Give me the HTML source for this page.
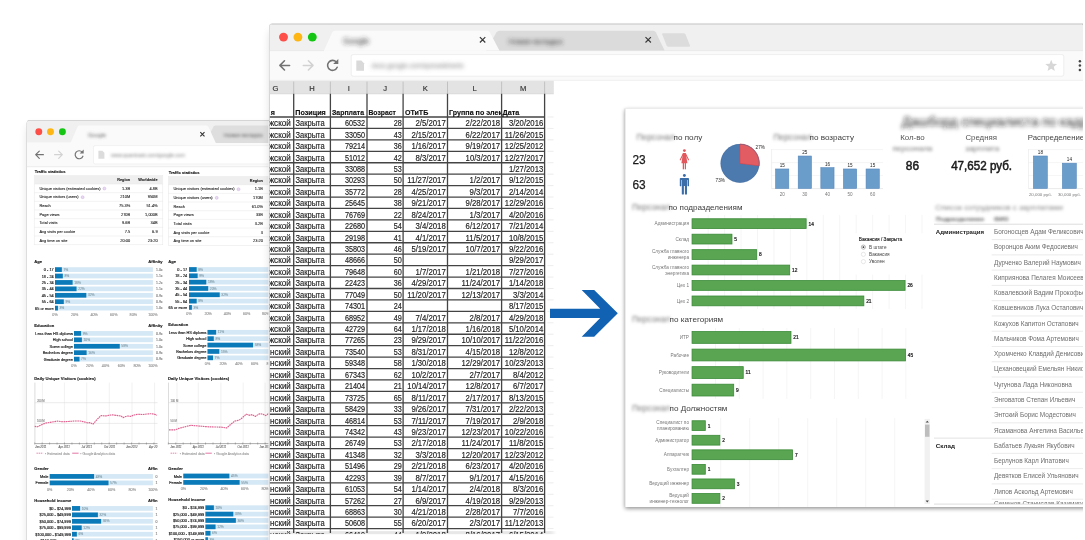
<!DOCTYPE html>
<html lang="ru">
<head>
<meta charset="utf-8">
<title>Excel → Dashboard</title>
<style>
html,body{margin:0;padding:0;background:#fff;}
body{width:1085px;height:540px;overflow:hidden;position:relative;font-family:'Liberation Sans', 'DejaVu Sans', sans-serif;}
svg{position:absolute;left:0;top:0;display:block;}
text{font-family:'Liberation Sans', 'DejaVu Sans', sans-serif;}
</style>
</head>
<body>
<svg width="1085" height="540" viewBox="0 0 1085 540" style="filter:blur(0.3px)">
<defs>
<filter id="sh" x="-10%" y="-10%" width="120%" height="120%"><feGaussianBlur stdDeviation="5"/></filter>
<filter id="sh2" x="-10%" y="-10%" width="120%" height="120%"><feGaussianBlur stdDeviation="2.2"/></filter>
<filter id="bl1" x="-20%" y="-60%" width="140%" height="220%"><feGaussianBlur stdDeviation="1.35"/></filter>
<filter id="bl2" x="-20%" y="-60%" width="140%" height="220%"><feGaussianBlur stdDeviation="2.2"/></filter>
<clipPath id="cw1"><rect x="27" y="120.5" width="260" height="440" rx="3"/></clipPath>
<clipPath id="cw2"><rect x="269.5" y="24" width="813.5" height="520" rx="3"/></clipPath>
<clipPath id="cdash"><rect x="625" y="108.5" width="458" height="398.5"/></clipPath>
<clipPath id="csheet"><rect x="269.5" y="80.5" width="290" height="453.3"/></clipPath>
</defs>
<!-- left browser window -->
<rect x="28.0" y="126.5" width="262" height="430" rx="4" fill="#000" opacity="0.14" filter="url(#sh)"/>
<rect x="26.6" y="120.1" width="263" height="431" rx="3.4" fill="#bdbdbd"/>
<g clip-path="url(#cw1)">
<rect x="27.00" y="120.50" width="262.00" height="430.00" fill="#ffffff"/>
<rect x="27.00" y="120.50" width="262.00" height="22.20" fill="#f0f0f0"/>
<rect x="27.00" y="142.70" width="262.00" height="23.80" fill="#fafafa"/>
<line x1="27.00" y1="166.70" x2="289.00" y2="166.70" stroke="#e3e3e3" stroke-width="0.6"/>
<path d="M205,142.9 L213.6,126.6 Q214.3,125.4 215.7,125.4 L300,125.4 L300,142.9 Z" fill="#dedede"/>
<path d="M70.5,142.9 L77.6,126.8 Q78.3,125.4 79.8,125.4 L206.2,125.4 Q207.7,125.4 208.4,126.8 L215.8,142.9 Z" fill="#fafafa"/>
<circle cx="38.8" cy="131.7" r="3.45" fill="#fd4f48"/><circle cx="50.5" cy="131.7" r="3.45" fill="#fdb614"/><circle cx="62.4" cy="131.7" r="3.45" fill="#14c514"/>
<g filter="url(#bl1)">
<text x="88.00" y="136.60" font-size="5.6" fill="#555">Google</text>
<text x="224.00" y="136.60" font-size="5.6" fill="#555">Новая вкладка</text>
</g>
<path d="M200.3,132.2 l4.2,4.2 m0,-4.2 l-4.2,4.2" stroke="#333" stroke-width="1.1" fill="none"/>
<g fill="none" stroke-linecap="round" stroke-linejoin="round">
<path d="M43.4,154.7 h-7.6 m3.5,-3.6 l-3.6,3.6 l3.6,3.6" stroke="#737373" stroke-width="1.2"/>
<path d="M54.6,154.7 h7.6 m-3.5,-3.6 l3.6,3.6 l-3.6,3.6" stroke="#d2d2d2" stroke-width="1.2"/>
<path d="M82.2,152.1 A4,4 0 1 0 82.9,156.2" stroke="#737373" stroke-width="1.2"/>
</g>
<path d="M83.7,149.6 v4.0 h-4.0 z" fill="#737373"/>
<rect x="93.5" y="145.6" width="200" height="18.3" rx="1.5" fill="#ffffff" stroke="#e6e6e6" stroke-width="0.5"/>
<path d="M98.4,150.7 h3.9 l2.1,2.1 v5.9 h-6 z" fill="#dcdcdc"/>
<g filter="url(#bl1)">
<text x="111.00" y="157.00" font-size="5.4" fill="#777" textLength="74.00" lengthAdjust="spacingAndGlyphs">www.quantcast.com/google.com</text>
</g>
<text x="34.70" y="172.90" font-size="4.05" fill="#111" font-weight="bold" stroke="#111" stroke-width="0.09">Traffic statistics</text>
<rect x="34.20" y="175.60" width="128.60" height="69.20" fill="#ffffff" stroke="#e6e6e6" stroke-width="0.5"/>
<rect x="34.20" y="175.60" width="128.60" height="8.40" fill="#efefef"/>
<text x="130.20" y="181.40" font-size="3.85" fill="#222" text-anchor="end" font-weight="bold" stroke="#222" stroke-width="0.09">Region</text>
<text x="157.60" y="181.40" font-size="3.85" fill="#222" text-anchor="end" font-weight="bold" stroke="#222" stroke-width="0.09">Worldwide</text>
<line x1="34.20" y1="184.00" x2="162.80" y2="184.00" stroke="#e6e6e6" stroke-width="0.5"/>
<text x="39.40" y="189.70" font-size="3.95" fill="#222" stroke="#222" stroke-width="0.09">Unique visitors (estimated cookies)</text>
<circle cx="104.40" cy="188.50" r="1.5" fill="#e9d9f2" stroke="#b48ad0" stroke-width="0.3"/>
<text x="130.20" y="189.70" font-size="3.95" fill="#222" text-anchor="end" stroke="#222" stroke-width="0.09">1.3B</text>
<text x="157.60" y="189.70" font-size="3.95" fill="#222" text-anchor="end" stroke="#222" stroke-width="0.09">4.8B</text>
<line x1="34.20" y1="192.67" x2="162.80" y2="192.67" stroke="#e6e6e6" stroke-width="0.5"/>
<text x="39.40" y="198.37" font-size="3.95" fill="#222" stroke="#222" stroke-width="0.09">Unique visitors (users)</text>
<circle cx="82.60" cy="197.17" r="1.5" fill="#e9d9f2" stroke="#b48ad0" stroke-width="0.3"/>
<text x="130.20" y="198.37" font-size="3.95" fill="#222" text-anchor="end" stroke="#222" stroke-width="0.09">210M</text>
<text x="157.60" y="198.37" font-size="3.95" fill="#222" text-anchor="end" stroke="#222" stroke-width="0.09">950M</text>
<line x1="34.20" y1="201.34" x2="162.80" y2="201.34" stroke="#e6e6e6" stroke-width="0.5"/>
<text x="39.40" y="207.04" font-size="3.95" fill="#222" stroke="#222" stroke-width="0.09">Reach</text>
<text x="130.20" y="207.04" font-size="3.95" fill="#222" text-anchor="end" stroke="#222" stroke-width="0.09">75.3%</text>
<text x="157.60" y="207.04" font-size="3.95" fill="#222" text-anchor="end" stroke="#222" stroke-width="0.09">51.4%</text>
<line x1="34.20" y1="210.01" x2="162.80" y2="210.01" stroke="#e6e6e6" stroke-width="0.5"/>
<text x="39.40" y="215.71" font-size="3.95" fill="#222" stroke="#222" stroke-width="0.09">Page views</text>
<text x="130.20" y="215.71" font-size="3.95" fill="#222" text-anchor="end" stroke="#222" stroke-width="0.09">270B</text>
<text x="157.60" y="215.71" font-size="3.95" fill="#222" text-anchor="end" stroke="#222" stroke-width="0.09">1,000B</text>
<line x1="34.20" y1="218.68" x2="162.80" y2="218.68" stroke="#e6e6e6" stroke-width="0.5"/>
<text x="39.40" y="224.38" font-size="3.95" fill="#222" stroke="#222" stroke-width="0.09">Total visits</text>
<text x="130.20" y="224.38" font-size="3.95" fill="#222" text-anchor="end" stroke="#222" stroke-width="0.09">9.6B</text>
<text x="157.60" y="224.38" font-size="3.95" fill="#222" text-anchor="end" stroke="#222" stroke-width="0.09">34B</text>
<line x1="34.20" y1="227.35" x2="162.80" y2="227.35" stroke="#e6e6e6" stroke-width="0.5"/>
<text x="39.40" y="233.05" font-size="3.95" fill="#222" stroke="#222" stroke-width="0.09">Avg visits per cookie</text>
<text x="130.20" y="233.05" font-size="3.95" fill="#222" text-anchor="end" stroke="#222" stroke-width="0.09">7.5</text>
<text x="157.60" y="233.05" font-size="3.95" fill="#222" text-anchor="end" stroke="#222" stroke-width="0.09">6.9</text>
<line x1="34.20" y1="236.02" x2="162.80" y2="236.02" stroke="#e6e6e6" stroke-width="0.5"/>
<text x="39.40" y="241.72" font-size="3.95" fill="#222" stroke="#222" stroke-width="0.09">Avg time on site</text>
<text x="130.20" y="241.72" font-size="3.95" fill="#222" text-anchor="end" stroke="#222" stroke-width="0.09">20:00</text>
<text x="157.60" y="241.72" font-size="3.95" fill="#222" text-anchor="end" stroke="#222" stroke-width="0.09">23:20</text>
<text x="168.80" y="173.60" font-size="4.05" fill="#111" font-weight="bold" stroke="#111" stroke-width="0.09">Traffic statistics</text>
<rect x="168.30" y="176.30" width="127.70" height="69.20" fill="#ffffff" stroke="#e6e6e6" stroke-width="0.5"/>
<rect x="168.30" y="176.30" width="127.70" height="8.40" fill="#efefef"/>
<text x="262.90" y="182.10" font-size="3.85" fill="#222" text-anchor="end" font-weight="bold" stroke="#222" stroke-width="0.09">Region</text>
<line x1="168.30" y1="184.70" x2="296.00" y2="184.70" stroke="#e6e6e6" stroke-width="0.5"/>
<text x="173.50" y="190.40" font-size="3.95" fill="#222" stroke="#222" stroke-width="0.09">Unique visitors (estimated cookies)</text>
<circle cx="238.50" cy="189.20" r="1.5" fill="#e9d9f2" stroke="#b48ad0" stroke-width="0.3"/>
<text x="262.90" y="190.40" font-size="3.95" fill="#222" text-anchor="end" stroke="#222" stroke-width="0.09">1.1B</text>
<line x1="168.30" y1="193.37" x2="296.00" y2="193.37" stroke="#e6e6e6" stroke-width="0.5"/>
<text x="173.50" y="199.07" font-size="3.95" fill="#222" stroke="#222" stroke-width="0.09">Unique visitors (users)</text>
<circle cx="216.70" cy="197.87" r="1.5" fill="#e9d9f2" stroke="#b48ad0" stroke-width="0.3"/>
<text x="262.90" y="199.07" font-size="3.95" fill="#222" text-anchor="end" stroke="#222" stroke-width="0.09">170M</text>
<line x1="168.30" y1="202.04" x2="296.00" y2="202.04" stroke="#e6e6e6" stroke-width="0.5"/>
<text x="173.50" y="207.74" font-size="3.95" fill="#222" stroke="#222" stroke-width="0.09">Reach</text>
<text x="262.90" y="207.74" font-size="3.95" fill="#222" text-anchor="end" stroke="#222" stroke-width="0.09">61.0%</text>
<line x1="168.30" y1="210.71" x2="296.00" y2="210.71" stroke="#e6e6e6" stroke-width="0.5"/>
<text x="173.50" y="216.41" font-size="3.95" fill="#222" stroke="#222" stroke-width="0.09">Page views</text>
<text x="262.90" y="216.41" font-size="3.95" fill="#222" text-anchor="end" stroke="#222" stroke-width="0.09">33B</text>
<line x1="168.30" y1="219.38" x2="296.00" y2="219.38" stroke="#e6e6e6" stroke-width="0.5"/>
<text x="173.50" y="225.08" font-size="3.95" fill="#222" stroke="#222" stroke-width="0.09">Total visits</text>
<text x="262.90" y="225.08" font-size="3.95" fill="#222" text-anchor="end" stroke="#222" stroke-width="0.09">3.2B</text>
<line x1="168.30" y1="228.05" x2="296.00" y2="228.05" stroke="#e6e6e6" stroke-width="0.5"/>
<text x="173.50" y="233.75" font-size="3.95" fill="#222" stroke="#222" stroke-width="0.09">Avg visits per cookie</text>
<text x="262.90" y="233.75" font-size="3.95" fill="#222" text-anchor="end" stroke="#222" stroke-width="0.09">3</text>
<line x1="168.30" y1="236.72" x2="296.00" y2="236.72" stroke="#e6e6e6" stroke-width="0.5"/>
<text x="173.50" y="242.42" font-size="3.95" fill="#222" stroke="#222" stroke-width="0.09">Avg time on site</text>
<text x="262.90" y="242.42" font-size="3.95" fill="#222" text-anchor="end" stroke="#222" stroke-width="0.09">23:20</text>
<text x="34.20" y="262.95" font-size="4.15" fill="#111" font-weight="bold" stroke="#111" stroke-width="0.09">Age</text>
<text x="162.60" y="262.95" font-size="4.15" fill="#111" text-anchor="end" font-weight="bold" stroke="#111" stroke-width="0.09">Affinity</text>
<rect x="55.00" y="267.25" width="97.90" height="4.70" fill="#d5e8f5"/>
<rect x="55.00" y="267.25" width="6.85" height="4.70" fill="#0a7ab8"/>
<text x="53.70" y="271.10" font-size="3.85" fill="#1a1a1a" text-anchor="end" stroke="#1a1a1a" stroke-width="0.15">0 - 17</text>
<text x="63.45" y="270.70" font-size="3.3" fill="#7f9aa8" stroke="#7f9aa8" stroke-width="0.09">7%</text>
<text x="162.60" y="270.85" font-size="3.5" fill="#777" text-anchor="end" stroke="#777" stroke-width="0.09">1.0x</text>
<rect x="55.00" y="273.67" width="97.90" height="4.70" fill="#d5e8f5"/>
<rect x="55.00" y="273.67" width="7.83" height="4.70" fill="#0a7ab8"/>
<text x="53.70" y="277.52" font-size="3.85" fill="#1a1a1a" text-anchor="end" stroke="#1a1a1a" stroke-width="0.15">18 - 24</text>
<text x="64.43" y="277.12" font-size="3.3" fill="#7f9aa8" stroke="#7f9aa8" stroke-width="0.09">8%</text>
<text x="162.60" y="277.27" font-size="3.5" fill="#777" text-anchor="end" stroke="#777" stroke-width="0.09">1.1x</text>
<rect x="55.00" y="280.09" width="97.90" height="4.70" fill="#d5e8f5"/>
<rect x="55.00" y="280.09" width="17.62" height="4.70" fill="#0a7ab8"/>
<text x="53.70" y="283.94" font-size="3.85" fill="#1a1a1a" text-anchor="end" stroke="#1a1a1a" stroke-width="0.15">25 - 34</text>
<text x="74.22" y="283.54" font-size="3.3" fill="#7f9aa8" stroke="#7f9aa8" stroke-width="0.09">18%</text>
<text x="162.60" y="283.69" font-size="3.5" fill="#777" text-anchor="end" stroke="#777" stroke-width="0.09">1.2x</text>
<rect x="55.00" y="286.51" width="97.90" height="4.70" fill="#d5e8f5"/>
<rect x="55.00" y="286.51" width="21.54" height="4.70" fill="#0a7ab8"/>
<text x="53.70" y="290.36" font-size="3.85" fill="#1a1a1a" text-anchor="end" stroke="#1a1a1a" stroke-width="0.15">35 - 44</text>
<text x="78.14" y="289.96" font-size="3.3" fill="#7f9aa8" stroke="#7f9aa8" stroke-width="0.09">22%</text>
<text x="162.60" y="290.11" font-size="3.5" fill="#777" text-anchor="end" stroke="#777" stroke-width="0.09">1.1x</text>
<rect x="55.00" y="292.93" width="97.90" height="4.70" fill="#d5e8f5"/>
<rect x="55.00" y="292.93" width="31.33" height="4.70" fill="#0a7ab8"/>
<text x="53.70" y="296.78" font-size="3.85" fill="#1a1a1a" text-anchor="end" stroke="#1a1a1a" stroke-width="0.15">45 - 54</text>
<text x="87.93" y="296.38" font-size="3.3" fill="#7f9aa8" stroke="#7f9aa8" stroke-width="0.09">32%</text>
<text x="162.60" y="296.53" font-size="3.5" fill="#777" text-anchor="end" stroke="#777" stroke-width="0.09">0.9x</text>
<rect x="55.00" y="299.35" width="97.90" height="4.70" fill="#d5e8f5"/>
<rect x="55.00" y="299.35" width="8.81" height="4.70" fill="#0a7ab8"/>
<text x="53.70" y="303.20" font-size="3.85" fill="#1a1a1a" text-anchor="end" stroke="#1a1a1a" stroke-width="0.15">55 - 64</text>
<text x="65.41" y="302.80" font-size="3.3" fill="#7f9aa8" stroke="#7f9aa8" stroke-width="0.09">9%</text>
<text x="162.60" y="302.95" font-size="3.5" fill="#777" text-anchor="end" stroke="#777" stroke-width="0.09">0.9x</text>
<rect x="55.00" y="305.77" width="97.90" height="4.70" fill="#d5e8f5"/>
<rect x="55.00" y="305.77" width="2.94" height="4.70" fill="#0a7ab8"/>
<text x="53.70" y="309.62" font-size="3.85" fill="#1a1a1a" text-anchor="end" stroke="#1a1a1a" stroke-width="0.15">65 or more</text>
<text x="59.54" y="309.22" font-size="3.3" fill="#7f9aa8" stroke="#7f9aa8" stroke-width="0.09">3%</text>
<text x="162.60" y="309.37" font-size="3.5" fill="#777" text-anchor="end" stroke="#777" stroke-width="0.09">1.0x</text>
<text x="55.00" y="316.10" font-size="3.7" fill="#8c8c8c" text-anchor="middle" stroke="#8c8c8c" stroke-width="0.09">0%</text>
<text x="74.58" y="316.10" font-size="3.7" fill="#8c8c8c" text-anchor="middle" stroke="#8c8c8c" stroke-width="0.09">20%</text>
<text x="94.16" y="316.10" font-size="3.7" fill="#8c8c8c" text-anchor="middle" stroke="#8c8c8c" stroke-width="0.09">40%</text>
<text x="113.74" y="316.10" font-size="3.7" fill="#8c8c8c" text-anchor="middle" stroke="#8c8c8c" stroke-width="0.09">60%</text>
<text x="133.32" y="316.10" font-size="3.7" fill="#8c8c8c" text-anchor="middle" stroke="#8c8c8c" stroke-width="0.09">80%</text>
<text x="152.90" y="316.10" font-size="3.7" fill="#8c8c8c" text-anchor="middle" stroke="#8c8c8c" stroke-width="0.09">100%</text>
<text x="168.30" y="262.95" font-size="4.15" fill="#111" font-weight="bold" stroke="#111" stroke-width="0.09">Age</text>
<rect x="189.00" y="267.15" width="96.00" height="4.70" fill="#d5e8f5"/>
<rect x="189.00" y="267.15" width="7.68" height="4.70" fill="#0a7ab8"/>
<text x="187.20" y="271.00" font-size="3.85" fill="#1a1a1a" text-anchor="end" stroke="#1a1a1a" stroke-width="0.15">0 - 17</text>
<text x="198.28" y="270.60" font-size="3.3" fill="#7f9aa8" stroke="#7f9aa8" stroke-width="0.09">8%</text>
<rect x="189.00" y="273.47" width="96.00" height="4.70" fill="#d5e8f5"/>
<rect x="189.00" y="273.47" width="8.64" height="4.70" fill="#0a7ab8"/>
<text x="187.20" y="277.32" font-size="3.85" fill="#1a1a1a" text-anchor="end" stroke="#1a1a1a" stroke-width="0.15">18 - 24</text>
<text x="199.24" y="276.92" font-size="3.3" fill="#7f9aa8" stroke="#7f9aa8" stroke-width="0.09">9%</text>
<rect x="189.00" y="279.79" width="96.00" height="4.70" fill="#d5e8f5"/>
<rect x="189.00" y="279.79" width="17.28" height="4.70" fill="#0a7ab8"/>
<text x="187.20" y="283.64" font-size="3.85" fill="#1a1a1a" text-anchor="end" stroke="#1a1a1a" stroke-width="0.15">25 - 34</text>
<text x="207.88" y="283.24" font-size="3.3" fill="#7f9aa8" stroke="#7f9aa8" stroke-width="0.09">18%</text>
<rect x="189.00" y="286.11" width="96.00" height="4.70" fill="#d5e8f5"/>
<rect x="189.00" y="286.11" width="19.20" height="4.70" fill="#0a7ab8"/>
<text x="187.20" y="289.96" font-size="3.85" fill="#1a1a1a" text-anchor="end" stroke="#1a1a1a" stroke-width="0.15">35 - 44</text>
<text x="209.80" y="289.56" font-size="3.3" fill="#7f9aa8" stroke="#7f9aa8" stroke-width="0.09">20%</text>
<rect x="189.00" y="292.43" width="96.00" height="4.70" fill="#d5e8f5"/>
<rect x="189.00" y="292.43" width="30.72" height="4.70" fill="#0a7ab8"/>
<text x="187.20" y="296.28" font-size="3.85" fill="#1a1a1a" text-anchor="end" stroke="#1a1a1a" stroke-width="0.15">45 - 54</text>
<text x="221.32" y="295.88" font-size="3.3" fill="#7f9aa8" stroke="#7f9aa8" stroke-width="0.09">32%</text>
<rect x="189.00" y="298.75" width="96.00" height="4.70" fill="#d5e8f5"/>
<rect x="189.00" y="298.75" width="7.68" height="4.70" fill="#0a7ab8"/>
<text x="187.20" y="302.60" font-size="3.85" fill="#1a1a1a" text-anchor="end" stroke="#1a1a1a" stroke-width="0.15">55 - 64</text>
<text x="198.28" y="302.20" font-size="3.3" fill="#7f9aa8" stroke="#7f9aa8" stroke-width="0.09">8%</text>
<rect x="189.00" y="305.07" width="96.00" height="4.70" fill="#d5e8f5"/>
<rect x="189.00" y="305.07" width="2.88" height="4.70" fill="#0a7ab8"/>
<text x="187.20" y="308.92" font-size="3.85" fill="#1a1a1a" text-anchor="end" stroke="#1a1a1a" stroke-width="0.15">65 or more</text>
<text x="193.48" y="308.52" font-size="3.3" fill="#7f9aa8" stroke="#7f9aa8" stroke-width="0.09">3%</text>
<text x="189.00" y="315.30" font-size="3.7" fill="#8c8c8c" text-anchor="middle" stroke="#8c8c8c" stroke-width="0.09">0%</text>
<text x="208.20" y="315.30" font-size="3.7" fill="#8c8c8c" text-anchor="middle" stroke="#8c8c8c" stroke-width="0.09">20%</text>
<text x="227.40" y="315.30" font-size="3.7" fill="#8c8c8c" text-anchor="middle" stroke="#8c8c8c" stroke-width="0.09">40%</text>
<text x="246.60" y="315.30" font-size="3.7" fill="#8c8c8c" text-anchor="middle" stroke="#8c8c8c" stroke-width="0.09">60%</text>
<text x="265.80" y="315.30" font-size="3.7" fill="#8c8c8c" text-anchor="middle" stroke="#8c8c8c" stroke-width="0.09">80%</text>
<text x="285.00" y="315.30" font-size="3.7" fill="#8c8c8c" text-anchor="middle" stroke="#8c8c8c" stroke-width="0.09">100%</text>
<text x="34.20" y="327.05" font-size="4.15" fill="#111" font-weight="bold" stroke="#111" stroke-width="0.09">Education</text>
<text x="162.60" y="327.05" font-size="4.15" fill="#111" text-anchor="end" font-weight="bold" stroke="#111" stroke-width="0.09">Affinity</text>
<rect x="74.00" y="331.05" width="78.90" height="4.70" fill="#d5e8f5"/>
<rect x="74.00" y="331.05" width="7.10" height="4.70" fill="#0a7ab8"/>
<text x="72.90" y="334.90" font-size="3.85" fill="#1a1a1a" text-anchor="end" stroke="#1a1a1a" stroke-width="0.15">Less than HS diploma</text>
<text x="82.70" y="334.50" font-size="3.3" fill="#7f9aa8" stroke="#7f9aa8" stroke-width="0.09">9%</text>
<text x="162.60" y="334.65" font-size="3.5" fill="#777" text-anchor="end" stroke="#777" stroke-width="0.09">0.9x</text>
<rect x="74.00" y="337.48" width="78.90" height="4.70" fill="#d5e8f5"/>
<rect x="74.00" y="337.48" width="7.89" height="4.70" fill="#0a7ab8"/>
<text x="72.90" y="341.33" font-size="3.85" fill="#1a1a1a" text-anchor="end" stroke="#1a1a1a" stroke-width="0.15">High school</text>
<text x="83.49" y="340.93" font-size="3.3" fill="#7f9aa8" stroke="#7f9aa8" stroke-width="0.09">10%</text>
<text x="162.60" y="341.08" font-size="3.5" fill="#777" text-anchor="end" stroke="#777" stroke-width="0.09">1.0x</text>
<rect x="74.00" y="343.91" width="78.90" height="4.70" fill="#d5e8f5"/>
<rect x="74.00" y="343.91" width="45.76" height="4.70" fill="#0a7ab8"/>
<text x="72.90" y="347.76" font-size="3.85" fill="#1a1a1a" text-anchor="end" stroke="#1a1a1a" stroke-width="0.15">Some college</text>
<text x="121.36" y="347.36" font-size="3.3" fill="#7f9aa8" stroke="#7f9aa8" stroke-width="0.09">58%</text>
<text x="162.60" y="347.51" font-size="3.5" fill="#777" text-anchor="end" stroke="#777" stroke-width="0.09">1.0x</text>
<rect x="74.00" y="350.34" width="78.90" height="4.70" fill="#d5e8f5"/>
<rect x="74.00" y="350.34" width="12.62" height="4.70" fill="#0a7ab8"/>
<text x="72.90" y="354.19" font-size="3.85" fill="#1a1a1a" text-anchor="end" stroke="#1a1a1a" stroke-width="0.15">Bachelors degree</text>
<text x="88.22" y="353.79" font-size="3.3" fill="#7f9aa8" stroke="#7f9aa8" stroke-width="0.09">16%</text>
<text x="162.60" y="353.94" font-size="3.5" fill="#777" text-anchor="end" stroke="#777" stroke-width="0.09">0.9x</text>
<rect x="74.00" y="356.77" width="78.90" height="4.70" fill="#d5e8f5"/>
<rect x="74.00" y="356.77" width="5.52" height="4.70" fill="#0a7ab8"/>
<text x="72.90" y="360.62" font-size="3.85" fill="#1a1a1a" text-anchor="end" stroke="#1a1a1a" stroke-width="0.15">Graduate degree</text>
<text x="81.12" y="360.22" font-size="3.3" fill="#7f9aa8" stroke="#7f9aa8" stroke-width="0.09">7%</text>
<text x="162.60" y="360.37" font-size="3.5" fill="#777" text-anchor="end" stroke="#777" stroke-width="0.09">0.9x</text>
<text x="74.00" y="366.90" font-size="3.7" fill="#8c8c8c" text-anchor="middle" stroke="#8c8c8c" stroke-width="0.09">0%</text>
<text x="89.78" y="366.90" font-size="3.7" fill="#8c8c8c" text-anchor="middle" stroke="#8c8c8c" stroke-width="0.09">20%</text>
<text x="105.56" y="366.90" font-size="3.7" fill="#8c8c8c" text-anchor="middle" stroke="#8c8c8c" stroke-width="0.09">40%</text>
<text x="121.34" y="366.90" font-size="3.7" fill="#8c8c8c" text-anchor="middle" stroke="#8c8c8c" stroke-width="0.09">60%</text>
<text x="137.12" y="366.90" font-size="3.7" fill="#8c8c8c" text-anchor="middle" stroke="#8c8c8c" stroke-width="0.09">80%</text>
<text x="152.90" y="366.90" font-size="3.7" fill="#8c8c8c" text-anchor="middle" stroke="#8c8c8c" stroke-width="0.09">100%</text>
<text x="168.30" y="326.15" font-size="4.15" fill="#111" font-weight="bold" stroke="#111" stroke-width="0.09">Education</text>
<rect x="207.50" y="329.95" width="78.50" height="4.70" fill="#d5e8f5"/>
<rect x="207.50" y="329.95" width="8.63" height="4.70" fill="#0a7ab8"/>
<text x="206.30" y="333.80" font-size="3.85" fill="#1a1a1a" text-anchor="end" stroke="#1a1a1a" stroke-width="0.15">Less than HS diploma</text>
<text x="217.73" y="333.40" font-size="3.3" fill="#7f9aa8" stroke="#7f9aa8" stroke-width="0.09">11%</text>
<rect x="207.50" y="336.33" width="78.50" height="4.70" fill="#d5e8f5"/>
<rect x="207.50" y="336.33" width="6.28" height="4.70" fill="#0a7ab8"/>
<text x="206.30" y="340.18" font-size="3.85" fill="#1a1a1a" text-anchor="end" stroke="#1a1a1a" stroke-width="0.15">High school</text>
<text x="215.38" y="339.78" font-size="3.3" fill="#7f9aa8" stroke="#7f9aa8" stroke-width="0.09">8%</text>
<rect x="207.50" y="342.71" width="78.50" height="4.70" fill="#d5e8f5"/>
<rect x="207.50" y="342.71" width="45.53" height="4.70" fill="#0a7ab8"/>
<text x="206.30" y="346.56" font-size="3.85" fill="#1a1a1a" text-anchor="end" stroke="#1a1a1a" stroke-width="0.15">Some college</text>
<text x="254.63" y="346.16" font-size="3.3" fill="#7f9aa8" stroke="#7f9aa8" stroke-width="0.09">58%</text>
<rect x="207.50" y="349.09" width="78.50" height="4.70" fill="#d5e8f5"/>
<rect x="207.50" y="349.09" width="11.78" height="4.70" fill="#0a7ab8"/>
<text x="206.30" y="352.94" font-size="3.85" fill="#1a1a1a" text-anchor="end" stroke="#1a1a1a" stroke-width="0.15">Bachelors degree</text>
<text x="220.88" y="352.54" font-size="3.3" fill="#7f9aa8" stroke="#7f9aa8" stroke-width="0.09">15%</text>
<rect x="207.50" y="355.47" width="78.50" height="4.70" fill="#d5e8f5"/>
<rect x="207.50" y="355.47" width="5.50" height="4.70" fill="#0a7ab8"/>
<text x="206.30" y="359.32" font-size="3.85" fill="#1a1a1a" text-anchor="end" stroke="#1a1a1a" stroke-width="0.15">Graduate degree</text>
<text x="214.59" y="358.92" font-size="3.3" fill="#7f9aa8" stroke="#7f9aa8" stroke-width="0.09">7%</text>
<text x="207.50" y="365.30" font-size="3.7" fill="#8c8c8c" text-anchor="middle" stroke="#8c8c8c" stroke-width="0.09">0%</text>
<text x="223.20" y="365.30" font-size="3.7" fill="#8c8c8c" text-anchor="middle" stroke="#8c8c8c" stroke-width="0.09">20%</text>
<text x="238.90" y="365.30" font-size="3.7" fill="#8c8c8c" text-anchor="middle" stroke="#8c8c8c" stroke-width="0.09">40%</text>
<text x="254.60" y="365.30" font-size="3.7" fill="#8c8c8c" text-anchor="middle" stroke="#8c8c8c" stroke-width="0.09">60%</text>
<text x="270.30" y="365.30" font-size="3.7" fill="#8c8c8c" text-anchor="middle" stroke="#8c8c8c" stroke-width="0.09">80%</text>
<text x="286.00" y="365.30" font-size="3.7" fill="#8c8c8c" text-anchor="middle" stroke="#8c8c8c" stroke-width="0.09">100%</text>
<text x="34.30" y="379.60" font-size="4.2" fill="#111" font-weight="bold" stroke="#111" stroke-width="0.09">Daily Unique Visitors (cookies)</text>
<line x1="34.90" y1="382.60" x2="34.90" y2="443.60" stroke="#cfcfcf" stroke-width="0.7"/>
<line x1="42.40" y1="382.60" x2="42.40" y2="443.60" stroke="#e2e2e2" stroke-width="0.5"/>
<line x1="64.40" y1="382.60" x2="64.40" y2="443.60" stroke="#e2e2e2" stroke-width="0.5"/>
<line x1="86.70" y1="382.60" x2="86.70" y2="443.60" stroke="#e2e2e2" stroke-width="0.5"/>
<line x1="109.30" y1="382.60" x2="109.30" y2="443.60" stroke="#e2e2e2" stroke-width="0.5"/>
<line x1="132.00" y1="382.60" x2="132.00" y2="443.60" stroke="#e2e2e2" stroke-width="0.5"/>
<line x1="154.60" y1="382.60" x2="154.60" y2="443.60" stroke="#e2e2e2" stroke-width="0.5"/>
<line x1="34.70" y1="402.70" x2="157.50" y2="402.70" stroke="#d8d8d8" stroke-width="0.5"/>
<text x="36.90" y="401.70" font-size="2.8" fill="#888" stroke="#888" stroke-width="0.09">200 M</text>
<line x1="34.70" y1="423.40" x2="157.50" y2="423.40" stroke="#d8d8d8" stroke-width="0.5"/>
<text x="36.90" y="422.40" font-size="2.8" fill="#888" stroke="#888" stroke-width="0.09">100 M</text>
<line x1="34.70" y1="443.60" x2="157.50" y2="443.60" stroke="#777" stroke-width="0.6"/>
<line x1="34.70" y1="442.40" x2="34.70" y2="444.60" stroke="#666" stroke-width="0.4"/>
<line x1="42.15" y1="442.40" x2="42.15" y2="444.60" stroke="#666" stroke-width="0.4"/>
<line x1="49.60" y1="442.40" x2="49.60" y2="444.60" stroke="#666" stroke-width="0.4"/>
<line x1="57.05" y1="442.40" x2="57.05" y2="444.60" stroke="#666" stroke-width="0.4"/>
<line x1="64.50" y1="442.40" x2="64.50" y2="444.60" stroke="#666" stroke-width="0.4"/>
<line x1="71.95" y1="442.40" x2="71.95" y2="444.60" stroke="#666" stroke-width="0.4"/>
<line x1="79.40" y1="442.40" x2="79.40" y2="444.60" stroke="#666" stroke-width="0.4"/>
<line x1="86.85" y1="442.40" x2="86.85" y2="444.60" stroke="#666" stroke-width="0.4"/>
<line x1="94.30" y1="442.40" x2="94.30" y2="444.60" stroke="#666" stroke-width="0.4"/>
<line x1="101.75" y1="442.40" x2="101.75" y2="444.60" stroke="#666" stroke-width="0.4"/>
<line x1="109.20" y1="442.40" x2="109.20" y2="444.60" stroke="#666" stroke-width="0.4"/>
<line x1="116.65" y1="442.40" x2="116.65" y2="444.60" stroke="#666" stroke-width="0.4"/>
<line x1="124.10" y1="442.40" x2="124.10" y2="444.60" stroke="#666" stroke-width="0.4"/>
<line x1="131.55" y1="442.40" x2="131.55" y2="444.60" stroke="#666" stroke-width="0.4"/>
<line x1="139.00" y1="442.40" x2="139.00" y2="444.60" stroke="#666" stroke-width="0.4"/>
<line x1="146.45" y1="442.40" x2="146.45" y2="444.60" stroke="#666" stroke-width="0.4"/>
<line x1="153.90" y1="442.40" x2="153.90" y2="444.60" stroke="#666" stroke-width="0.4"/>
<path d="M34.7,426.4 L37.5,426.8 L41.0,425.0 L45.7,423.0 L50.0,422.4 L57.3,421.1 L63.0,421.8 L71.0,421.3 L75.0,421.0 L80.3,421.0 L84.0,421.8 L88.0,423.0 L90.0,422.6 L93.0,424.1 L97.0,419.5 L101.0,415.6 L106.0,415.9 L109.0,415.2 L112.6,414.9 L118.0,415.6 L121.0,416.0 L123.0,417.6 L127.0,416.0 L131.0,416.4 L134.0,415.0 L138.0,414.2 L143.0,414.5 L147.0,414.0 L150.6,413.7 L154.0,414.0 L157.0,415.3" fill="none" stroke="#e0608f" stroke-width="1.15" stroke-dasharray="1.7 0.6" stroke-linejoin="round"/>
<text x="40.70" y="448.20" font-size="2.8" fill="#666" text-anchor="middle" font-style="italic" stroke="#666" stroke-width="0.09">Jan 2011</text>
<text x="64.20" y="448.20" font-size="2.8" fill="#666" text-anchor="middle" font-style="italic" stroke="#666" stroke-width="0.09">Apr 2011</text>
<text x="86.80" y="448.20" font-size="2.8" fill="#666" text-anchor="middle" font-style="italic" stroke="#666" stroke-width="0.09">Jul 2011</text>
<text x="109.60" y="448.20" font-size="2.8" fill="#666" text-anchor="middle" font-style="italic" stroke="#666" stroke-width="0.09">Oct 2011</text>
<text x="131.70" y="448.20" font-size="2.8" fill="#666" text-anchor="middle" font-style="italic" stroke="#666" stroke-width="0.09">Jan 2012</text>
<text x="153.20" y="448.20" font-size="2.8" fill="#666" text-anchor="middle" font-style="italic" stroke="#666" stroke-width="0.09">Apr 20</text>
<line x1="36.50" y1="453.20" x2="43.10" y2="453.20" stroke="#e0669a" stroke-width="0.8" stroke-dasharray="1.4 0.7"/>
<text x="45.00" y="455.00" font-size="3.4" fill="#999" stroke="#999" stroke-width="0.09">• Estimated data</text>
<line x1="72.20" y1="453.20" x2="78.60" y2="453.20" stroke="#e0669a" stroke-width="0.9"/>
<text x="80.30" y="455.00" font-size="3.4" fill="#999" stroke="#999" stroke-width="0.09">• Google Analytics data</text>
<text x="167.90" y="380.10" font-size="4.2" fill="#111" font-weight="bold" stroke="#111" stroke-width="0.09">Daily Unique Visitors (cookies)</text>
<line x1="168.50" y1="382.60" x2="168.50" y2="443.60" stroke="#cfcfcf" stroke-width="0.7"/>
<line x1="177.00" y1="382.60" x2="177.00" y2="443.60" stroke="#e2e2e2" stroke-width="0.5"/>
<line x1="198.30" y1="382.60" x2="198.30" y2="443.60" stroke="#e2e2e2" stroke-width="0.5"/>
<line x1="220.90" y1="382.60" x2="220.90" y2="443.60" stroke="#e2e2e2" stroke-width="0.5"/>
<line x1="243.20" y1="382.60" x2="243.20" y2="443.60" stroke="#e2e2e2" stroke-width="0.5"/>
<line x1="265.10" y1="382.60" x2="265.10" y2="443.60" stroke="#e2e2e2" stroke-width="0.5"/>
<line x1="287.00" y1="382.60" x2="287.00" y2="443.60" stroke="#e2e2e2" stroke-width="0.5"/>
<line x1="168.30" y1="402.70" x2="296.00" y2="402.70" stroke="#d8d8d8" stroke-width="0.5"/>
<text x="170.50" y="401.70" font-size="2.8" fill="#888" stroke="#888" stroke-width="0.09">100 M</text>
<line x1="168.30" y1="423.40" x2="296.00" y2="423.40" stroke="#d8d8d8" stroke-width="0.5"/>
<text x="170.50" y="422.40" font-size="2.8" fill="#888" stroke="#888" stroke-width="0.09">50 M</text>
<line x1="168.30" y1="443.60" x2="296.00" y2="443.60" stroke="#777" stroke-width="0.6"/>
<line x1="168.30" y1="442.40" x2="168.30" y2="444.60" stroke="#666" stroke-width="0.4"/>
<line x1="175.75" y1="442.40" x2="175.75" y2="444.60" stroke="#666" stroke-width="0.4"/>
<line x1="183.20" y1="442.40" x2="183.20" y2="444.60" stroke="#666" stroke-width="0.4"/>
<line x1="190.65" y1="442.40" x2="190.65" y2="444.60" stroke="#666" stroke-width="0.4"/>
<line x1="198.10" y1="442.40" x2="198.10" y2="444.60" stroke="#666" stroke-width="0.4"/>
<line x1="205.55" y1="442.40" x2="205.55" y2="444.60" stroke="#666" stroke-width="0.4"/>
<line x1="213.00" y1="442.40" x2="213.00" y2="444.60" stroke="#666" stroke-width="0.4"/>
<line x1="220.45" y1="442.40" x2="220.45" y2="444.60" stroke="#666" stroke-width="0.4"/>
<line x1="227.90" y1="442.40" x2="227.90" y2="444.60" stroke="#666" stroke-width="0.4"/>
<line x1="235.35" y1="442.40" x2="235.35" y2="444.60" stroke="#666" stroke-width="0.4"/>
<line x1="242.80" y1="442.40" x2="242.80" y2="444.60" stroke="#666" stroke-width="0.4"/>
<line x1="250.25" y1="442.40" x2="250.25" y2="444.60" stroke="#666" stroke-width="0.4"/>
<line x1="257.70" y1="442.40" x2="257.70" y2="444.60" stroke="#666" stroke-width="0.4"/>
<line x1="265.15" y1="442.40" x2="265.15" y2="444.60" stroke="#666" stroke-width="0.4"/>
<line x1="272.60" y1="442.40" x2="272.60" y2="444.60" stroke="#666" stroke-width="0.4"/>
<line x1="280.05" y1="442.40" x2="280.05" y2="444.60" stroke="#666" stroke-width="0.4"/>
<line x1="287.50" y1="442.40" x2="287.50" y2="444.60" stroke="#666" stroke-width="0.4"/>
<line x1="294.95" y1="442.40" x2="294.95" y2="444.60" stroke="#666" stroke-width="0.4"/>
<path d="M169.0,429.9 L174.8,429.9 L179.0,428.4 L184.0,427.0 L190.9,425.3 L196.0,425.8 L202.0,426.3 L209.3,426.9 L217.0,427.0 L222.0,427.2 L226.6,428.0 L230.0,425.0 L234.7,421.1 L239.0,420.2 L242.0,418.0 L246.2,414.2 L250.0,415.4 L252.0,414.6 L255.4,416.5 L258.0,414.6 L260.0,413.7 L263.0,414.2 L265.8,415.6 L269.0,413.3 L275.0,412.5 L290.0,412.0" fill="none" stroke="#e0608f" stroke-width="1.15" stroke-dasharray="1.7 0.6" stroke-linejoin="round"/>
<text x="176.00" y="448.20" font-size="2.8" fill="#666" text-anchor="middle" font-style="italic" stroke="#666" stroke-width="0.09">Jan 2011</text>
<text x="198.30" y="448.20" font-size="2.8" fill="#666" text-anchor="middle" font-style="italic" stroke="#666" stroke-width="0.09">Apr 2011</text>
<text x="220.90" y="448.20" font-size="2.8" fill="#666" text-anchor="middle" font-style="italic" stroke="#666" stroke-width="0.09">Jul 2011</text>
<text x="243.20" y="448.20" font-size="2.8" fill="#666" text-anchor="middle" font-style="italic" stroke="#666" stroke-width="0.09">Oct 2011</text>
<text x="265.30" y="448.20" font-size="2.8" fill="#666" text-anchor="middle" font-style="italic" stroke="#666" stroke-width="0.09">Jan 2012</text>
<line x1="170.60" y1="453.20" x2="177.20" y2="453.20" stroke="#e0669a" stroke-width="0.8" stroke-dasharray="1.4 0.7"/>
<text x="179.80" y="455.00" font-size="3.4" fill="#999" stroke="#999" stroke-width="0.09">• Estimated data</text>
<line x1="205.40" y1="453.20" x2="211.80" y2="453.20" stroke="#e0669a" stroke-width="0.9"/>
<text x="214.00" y="455.00" font-size="3.4" fill="#999" stroke="#999" stroke-width="0.09">• Google Analytics data</text>
<text x="34.20" y="470.25" font-size="4.15" fill="#111" font-weight="bold" stroke="#111" stroke-width="0.09">Gender</text>
<text x="157.50" y="470.25" font-size="4.15" fill="#111" text-anchor="end" font-weight="bold" stroke="#111" stroke-width="0.09">Affin</text>
<rect x="49.70" y="474.05" width="103.20" height="4.70" fill="#d5e8f5"/>
<rect x="49.70" y="474.05" width="44.38" height="4.70" fill="#0a7ab8"/>
<text x="48.40" y="477.90" font-size="3.85" fill="#1a1a1a" text-anchor="end" stroke="#1a1a1a" stroke-width="0.15">Male</text>
<text x="95.68" y="477.50" font-size="3.3" fill="#7f9aa8" stroke="#7f9aa8" stroke-width="0.09">43%</text>
<text x="157.50" y="477.65" font-size="3.5" fill="#777" text-anchor="end" stroke="#777" stroke-width="0.09">0</text>
<rect x="49.70" y="480.55" width="103.20" height="4.70" fill="#d5e8f5"/>
<rect x="49.70" y="480.55" width="58.82" height="4.70" fill="#0a7ab8"/>
<text x="48.40" y="484.40" font-size="3.85" fill="#1a1a1a" text-anchor="end" stroke="#1a1a1a" stroke-width="0.15">Female</text>
<text x="110.12" y="484.00" font-size="3.3" fill="#7f9aa8" stroke="#7f9aa8" stroke-width="0.09">57%</text>
<text x="157.50" y="484.15" font-size="3.5" fill="#777" text-anchor="end" stroke="#777" stroke-width="0.09">1</text>
<text x="49.70" y="490.60" font-size="3.7" fill="#8c8c8c" text-anchor="middle" stroke="#8c8c8c" stroke-width="0.09">0%</text>
<text x="70.34" y="490.60" font-size="3.7" fill="#8c8c8c" text-anchor="middle" stroke="#8c8c8c" stroke-width="0.09">20%</text>
<text x="90.98" y="490.60" font-size="3.7" fill="#8c8c8c" text-anchor="middle" stroke="#8c8c8c" stroke-width="0.09">40%</text>
<text x="111.62" y="490.60" font-size="3.7" fill="#8c8c8c" text-anchor="middle" stroke="#8c8c8c" stroke-width="0.09">60%</text>
<text x="132.26" y="490.60" font-size="3.7" fill="#8c8c8c" text-anchor="middle" stroke="#8c8c8c" stroke-width="0.09">80%</text>
<text x="152.90" y="490.60" font-size="3.7" fill="#8c8c8c" text-anchor="middle" stroke="#8c8c8c" stroke-width="0.09">100%</text>
<text x="168.30" y="469.55" font-size="4.15" fill="#111" font-weight="bold" stroke="#111" stroke-width="0.09">Gender</text>
<rect x="183.30" y="473.65" width="102.40" height="4.70" fill="#d5e8f5"/>
<rect x="183.30" y="473.65" width="46.08" height="4.70" fill="#0a7ab8"/>
<text x="182.00" y="477.50" font-size="3.85" fill="#1a1a1a" text-anchor="end" stroke="#1a1a1a" stroke-width="0.15">Male</text>
<text x="230.98" y="477.10" font-size="3.3" fill="#7f9aa8" stroke="#7f9aa8" stroke-width="0.09">45%</text>
<rect x="183.30" y="480.05" width="102.40" height="4.70" fill="#d5e8f5"/>
<rect x="183.30" y="480.05" width="56.32" height="4.70" fill="#0a7ab8"/>
<text x="182.00" y="483.90" font-size="3.85" fill="#1a1a1a" text-anchor="end" stroke="#1a1a1a" stroke-width="0.15">Female</text>
<text x="241.22" y="483.50" font-size="3.3" fill="#7f9aa8" stroke="#7f9aa8" stroke-width="0.09">55%</text>
<text x="183.30" y="490.10" font-size="3.7" fill="#8c8c8c" text-anchor="middle" stroke="#8c8c8c" stroke-width="0.09">0%</text>
<text x="203.78" y="490.10" font-size="3.7" fill="#8c8c8c" text-anchor="middle" stroke="#8c8c8c" stroke-width="0.09">20%</text>
<text x="224.26" y="490.10" font-size="3.7" fill="#8c8c8c" text-anchor="middle" stroke="#8c8c8c" stroke-width="0.09">40%</text>
<text x="244.74" y="490.10" font-size="3.7" fill="#8c8c8c" text-anchor="middle" stroke="#8c8c8c" stroke-width="0.09">60%</text>
<text x="265.22" y="490.10" font-size="3.7" fill="#8c8c8c" text-anchor="middle" stroke="#8c8c8c" stroke-width="0.09">80%</text>
<text x="285.70" y="490.10" font-size="3.7" fill="#8c8c8c" text-anchor="middle" stroke="#8c8c8c" stroke-width="0.09">100%</text>
<text x="34.20" y="502.25" font-size="4.15" fill="#111" font-weight="bold" stroke="#111" stroke-width="0.09">Household income</text>
<text x="157.50" y="502.25" font-size="4.15" fill="#111" text-anchor="end" font-weight="bold" stroke="#111" stroke-width="0.09">Affin</text>
<rect x="72.00" y="506.05" width="80.90" height="4.70" fill="#d5e8f5"/>
<rect x="72.00" y="506.05" width="8.09" height="4.70" fill="#0a7ab8"/>
<text x="70.80" y="509.90" font-size="3.85" fill="#1a1a1a" text-anchor="end" stroke="#1a1a1a" stroke-width="0.15">$0 - $24,999</text>
<text x="81.69" y="509.50" font-size="3.3" fill="#7f9aa8" stroke="#7f9aa8" stroke-width="0.09">10%</text>
<text x="157.50" y="509.65" font-size="3.5" fill="#777" text-anchor="end" stroke="#777" stroke-width="0.09">1</text>
<rect x="72.00" y="512.50" width="80.90" height="4.70" fill="#d5e8f5"/>
<rect x="72.00" y="512.50" width="25.89" height="4.70" fill="#0a7ab8"/>
<text x="70.80" y="516.35" font-size="3.85" fill="#1a1a1a" text-anchor="end" stroke="#1a1a1a" stroke-width="0.15">$25,000 - $49,999</text>
<text x="99.49" y="515.95" font-size="3.3" fill="#7f9aa8" stroke="#7f9aa8" stroke-width="0.09">32%</text>
<text x="157.50" y="516.10" font-size="3.5" fill="#777" text-anchor="end" stroke="#777" stroke-width="0.09">1</text>
<rect x="72.00" y="518.95" width="80.90" height="4.70" fill="#d5e8f5"/>
<rect x="72.00" y="518.95" width="29.12" height="4.70" fill="#0a7ab8"/>
<text x="70.80" y="522.80" font-size="3.85" fill="#1a1a1a" text-anchor="end" stroke="#1a1a1a" stroke-width="0.15">$50,000 - $74,999</text>
<text x="102.72" y="522.40" font-size="3.3" fill="#7f9aa8" stroke="#7f9aa8" stroke-width="0.09">36%</text>
<text x="157.50" y="522.55" font-size="3.5" fill="#777" text-anchor="end" stroke="#777" stroke-width="0.09">0</text>
<rect x="72.00" y="525.40" width="80.90" height="4.70" fill="#d5e8f5"/>
<rect x="72.00" y="525.40" width="9.71" height="4.70" fill="#0a7ab8"/>
<text x="70.80" y="529.25" font-size="3.85" fill="#1a1a1a" text-anchor="end" stroke="#1a1a1a" stroke-width="0.15">$75,000 - $99,999</text>
<text x="83.31" y="528.85" font-size="3.3" fill="#7f9aa8" stroke="#7f9aa8" stroke-width="0.09">12%</text>
<text x="157.50" y="529.00" font-size="3.5" fill="#777" text-anchor="end" stroke="#777" stroke-width="0.09">1</text>
<rect x="72.00" y="531.85" width="80.90" height="4.70" fill="#d5e8f5"/>
<rect x="72.00" y="531.85" width="4.85" height="4.70" fill="#0a7ab8"/>
<text x="70.80" y="535.70" font-size="3.85" fill="#1a1a1a" text-anchor="end" stroke="#1a1a1a" stroke-width="0.15">$100,000 - $149,999</text>
<text x="78.45" y="535.30" font-size="3.3" fill="#7f9aa8" stroke="#7f9aa8" stroke-width="0.09">6%</text>
<text x="157.50" y="535.45" font-size="3.5" fill="#777" text-anchor="end" stroke="#777" stroke-width="0.09">1</text>
<rect x="72.00" y="538.30" width="80.90" height="4.70" fill="#d5e8f5"/>
<rect x="72.00" y="538.30" width="1.62" height="4.70" fill="#0a7ab8"/>
<text x="70.80" y="542.15" font-size="3.85" fill="#1a1a1a" text-anchor="end" stroke="#1a1a1a" stroke-width="0.15">$150,000 or more</text>
<text x="75.22" y="541.75" font-size="3.3" fill="#7f9aa8" stroke="#7f9aa8" stroke-width="0.09">2%</text>
<text x="157.50" y="541.90" font-size="3.5" fill="#777" text-anchor="end" stroke="#777" stroke-width="0.09">1</text>
<text x="72.00" y="561.10" font-size="3.7" fill="#8c8c8c" text-anchor="middle" stroke="#8c8c8c" stroke-width="0.09">0%</text>
<text x="88.18" y="561.10" font-size="3.7" fill="#8c8c8c" text-anchor="middle" stroke="#8c8c8c" stroke-width="0.09">20%</text>
<text x="104.36" y="561.10" font-size="3.7" fill="#8c8c8c" text-anchor="middle" stroke="#8c8c8c" stroke-width="0.09">40%</text>
<text x="120.54" y="561.10" font-size="3.7" fill="#8c8c8c" text-anchor="middle" stroke="#8c8c8c" stroke-width="0.09">60%</text>
<text x="136.72" y="561.10" font-size="3.7" fill="#8c8c8c" text-anchor="middle" stroke="#8c8c8c" stroke-width="0.09">80%</text>
<text x="152.90" y="561.10" font-size="3.7" fill="#8c8c8c" text-anchor="middle" stroke="#8c8c8c" stroke-width="0.09">100%</text>
<text x="168.30" y="501.35" font-size="4.15" fill="#111" font-weight="bold" stroke="#111" stroke-width="0.09">Household income</text>
<rect x="205.40" y="505.35" width="84.60" height="4.70" fill="#d5e8f5"/>
<rect x="205.40" y="505.35" width="8.46" height="4.70" fill="#0a7ab8"/>
<text x="204.20" y="509.20" font-size="3.85" fill="#1a1a1a" text-anchor="end" stroke="#1a1a1a" stroke-width="0.15">$0 - $24,999</text>
<text x="215.46" y="508.80" font-size="3.3" fill="#7f9aa8" stroke="#7f9aa8" stroke-width="0.09">10%</text>
<rect x="205.40" y="511.73" width="84.60" height="4.70" fill="#d5e8f5"/>
<rect x="205.40" y="511.73" width="27.92" height="4.70" fill="#0a7ab8"/>
<text x="204.20" y="515.58" font-size="3.85" fill="#1a1a1a" text-anchor="end" stroke="#1a1a1a" stroke-width="0.15">$25,000 - $49,999</text>
<text x="234.92" y="515.18" font-size="3.3" fill="#7f9aa8" stroke="#7f9aa8" stroke-width="0.09">33%</text>
<rect x="205.40" y="518.11" width="84.60" height="4.70" fill="#d5e8f5"/>
<rect x="205.40" y="518.11" width="30.46" height="4.70" fill="#0a7ab8"/>
<text x="204.20" y="521.96" font-size="3.85" fill="#1a1a1a" text-anchor="end" stroke="#1a1a1a" stroke-width="0.15">$50,000 - $74,999</text>
<text x="237.46" y="521.56" font-size="3.3" fill="#7f9aa8" stroke="#7f9aa8" stroke-width="0.09">36%</text>
<rect x="205.40" y="524.49" width="84.60" height="4.70" fill="#d5e8f5"/>
<rect x="205.40" y="524.49" width="10.15" height="4.70" fill="#0a7ab8"/>
<text x="204.20" y="528.34" font-size="3.85" fill="#1a1a1a" text-anchor="end" stroke="#1a1a1a" stroke-width="0.15">$75,000 - $99,999</text>
<text x="217.15" y="527.94" font-size="3.3" fill="#7f9aa8" stroke="#7f9aa8" stroke-width="0.09">12%</text>
<rect x="205.40" y="530.87" width="84.60" height="4.70" fill="#d5e8f5"/>
<rect x="205.40" y="530.87" width="5.08" height="4.70" fill="#0a7ab8"/>
<text x="204.20" y="534.72" font-size="3.85" fill="#1a1a1a" text-anchor="end" stroke="#1a1a1a" stroke-width="0.15">$100,000 - $149,999</text>
<text x="212.08" y="534.32" font-size="3.3" fill="#7f9aa8" stroke="#7f9aa8" stroke-width="0.09">6%</text>
<rect x="205.40" y="537.25" width="84.60" height="4.70" fill="#d5e8f5"/>
<rect x="205.40" y="537.25" width="2.54" height="4.70" fill="#0a7ab8"/>
<text x="204.20" y="541.10" font-size="3.85" fill="#1a1a1a" text-anchor="end" stroke="#1a1a1a" stroke-width="0.15">$150,000 or more</text>
<text x="209.54" y="540.70" font-size="3.3" fill="#7f9aa8" stroke="#7f9aa8" stroke-width="0.09">3%</text>
<text x="205.40" y="561.10" font-size="3.7" fill="#8c8c8c" text-anchor="middle" stroke="#8c8c8c" stroke-width="0.09">0%</text>
<text x="222.32" y="561.10" font-size="3.7" fill="#8c8c8c" text-anchor="middle" stroke="#8c8c8c" stroke-width="0.09">20%</text>
<text x="239.24" y="561.10" font-size="3.7" fill="#8c8c8c" text-anchor="middle" stroke="#8c8c8c" stroke-width="0.09">40%</text>
<text x="256.16" y="561.10" font-size="3.7" fill="#8c8c8c" text-anchor="middle" stroke="#8c8c8c" stroke-width="0.09">60%</text>
<text x="273.08" y="561.10" font-size="3.7" fill="#8c8c8c" text-anchor="middle" stroke="#8c8c8c" stroke-width="0.09">80%</text>
<text x="290.00" y="561.10" font-size="3.7" fill="#8c8c8c" text-anchor="middle" stroke="#8c8c8c" stroke-width="0.09">100%</text>
</g>
<!-- big browser window -->
<rect x="268.40" y="121.00" width="1.20" height="420.00" fill="#ffffff"/>
<rect x="270.5" y="31.0" width="822" height="530" rx="4" fill="#000" opacity="0.16" filter="url(#sh)"/>
<rect x="269.1" y="23.6" width="820" height="530" rx="3.4" fill="#c2c2c2"/>
<g clip-path="url(#cw2)">
<rect x="269.50" y="24.00" width="816.00" height="520.00" fill="#ffffff"/>
<rect x="269.50" y="24.00" width="816.00" height="26.60" fill="#f0f0f0"/>
<line x1="269.50" y1="24.30" x2="1085.50" y2="24.30" stroke="#c9c9c9" stroke-width="0.7"/>
<rect x="269.50" y="50.60" width="816.00" height="29.60" fill="#fafafa"/>
<line x1="269.50" y1="80.40" x2="1085.50" y2="80.40" stroke="#e6e6e6" stroke-width="0.6"/>
<path d="M663.2,33.2 L683.6,33.2 Q685,33.2 685.6,34.5 L690,45.4 Q690.5,46.8 689,46.8 L668.6,46.8 Q667.2,46.8 666.6,45.5 L662.2,34.6 Q661.7,33.2 663.2,33.2 Z" fill="#dcdcdc"/>
<path d="M486,50.6 L496.6,32.2 Q497.5,30.7 499.3,30.7 L653.2,30.7 Q655,30.7 655.8,32.2 L664.6,50.6 Z" fill="#dbdbdb"/>
<path d="M324,50.6 L332.3,32.3 Q333.1,30.7 334.9,30.7 L487.2,30.7 Q489,30.7 489.8,32.3 L499.4,50.6 Z" fill="#fafafa"/>
<line x1="269.50" y1="50.60" x2="324.00" y2="50.60" stroke="#dcdcdc" stroke-width="0.5"/>
<line x1="499.40" y1="50.60" x2="1083.00" y2="50.60" stroke="#dcdcdc" stroke-width="0.5"/>
<circle cx="283.5" cy="37.1" r="4.45" fill="#fd4f48"/><circle cx="297.9" cy="37.1" r="4.45" fill="#fdb614"/><circle cx="312.3" cy="37.1" r="4.45" fill="#14c514"/>
<g filter="url(#bl2)">
<text x="343.00" y="43.60" font-size="8.2" fill="#2a2a2a">Google</text>
<text x="508.50" y="43.60" font-size="7.8" fill="#333">Новая вкладка</text>
</g>
<path d="M479.9,37.1 l5.4,5.4 m0,-5.4 l-5.4,5.4 M645.5,37.1 l5.4,5.4 m0,-5.4 l-5.4,5.4" stroke="#3c3c3c" stroke-width="1.2" fill="none"/>
<g fill="none" stroke-linecap="round" stroke-linejoin="round">
<path d="M289.6,65.4 h-9.6 m4.5,-4.6 l-4.6,4.6 l4.6,4.6" stroke="#737373" stroke-width="1.55"/>
<path d="M303.3,65.4 h9.6 m-4.5,-4.6 l4.6,4.6 l-4.6,4.6" stroke="#d2d2d2" stroke-width="1.55"/>
<path d="M336.3,62.0 A5,5 0 1 0 337.2,67.3" stroke="#737373" stroke-width="1.55"/>
</g>
<path d="M338.3,58.9 v5.2 h-5.2 z" fill="#737373"/>
<rect x="351.2" y="54.6" width="712.6" height="21.6" rx="2" fill="#ffffff" stroke="#e4e4e4" stroke-width="0.6"/>
<path d="M356.3,60.6 h5.0 l2.7,2.7 v7.5 h-7.7 z" fill="#d9d9d9"/>
<g filter="url(#bl2)">
<text x="371.50" y="68.40" font-size="7.2" fill="#777" textLength="92.00" lengthAdjust="spacingAndGlyphs">docs.google.com/spreadsheets</text>
</g>
<polygon points="1051.20,59.80 1052.79,63.82 1057.10,64.08 1053.77,66.83 1054.84,71.02 1051.20,68.70 1047.56,71.02 1048.63,66.83 1045.30,64.08 1049.61,63.82" fill="#d7d7d7"/>
<circle cx="1079.9" cy="61.2" r="1.25" fill="#444"/><circle cx="1079.9" cy="65.6" r="1.25" fill="#444"/><circle cx="1079.9" cy="70.0" r="1.25" fill="#444"/>
<g clip-path="url(#csheet)">
<rect x="269.50" y="80.60" width="284.30" height="13.20" fill="#e3e3e3"/>
<text x="275.40" y="90.60" font-size="7.6" fill="#333" text-anchor="middle" stroke="#333" stroke-width="0.16">G</text>
<text x="312.05" y="90.60" font-size="7.6" fill="#333" text-anchor="middle" stroke="#333" stroke-width="0.16">H</text>
<text x="348.70" y="90.60" font-size="7.6" fill="#333" text-anchor="middle" stroke="#333" stroke-width="0.16">I</text>
<text x="385.05" y="90.60" font-size="7.6" fill="#333" text-anchor="middle" stroke="#333" stroke-width="0.16">J</text>
<text x="425.30" y="90.60" font-size="7.6" fill="#333" text-anchor="middle" stroke="#333" stroke-width="0.16">K</text>
<text x="474.55" y="90.60" font-size="7.6" fill="#333" text-anchor="middle" stroke="#333" stroke-width="0.16">L</text>
<text x="523.10" y="90.60" font-size="7.6" fill="#333" text-anchor="middle" stroke="#333" stroke-width="0.16">M</text>
<line x1="293.70" y1="81.60" x2="293.70" y2="93.80" stroke="#bdbdbd" stroke-width="0.9"/>
<line x1="330.40" y1="81.60" x2="330.40" y2="93.80" stroke="#bdbdbd" stroke-width="0.9"/>
<line x1="367.00" y1="81.60" x2="367.00" y2="93.80" stroke="#bdbdbd" stroke-width="0.9"/>
<line x1="403.10" y1="81.60" x2="403.10" y2="93.80" stroke="#bdbdbd" stroke-width="0.9"/>
<line x1="447.50" y1="81.60" x2="447.50" y2="93.80" stroke="#bdbdbd" stroke-width="0.9"/>
<line x1="501.60" y1="81.60" x2="501.60" y2="93.80" stroke="#bdbdbd" stroke-width="0.9"/>
<line x1="544.60" y1="81.60" x2="544.60" y2="93.80" stroke="#bdbdbd" stroke-width="0.9"/>
<line x1="269.50" y1="93.80" x2="553.80" y2="93.80" stroke="#cfcfcf" stroke-width="0.6"/>
<line x1="547.40" y1="117.00" x2="553.50" y2="117.00" stroke="#e4e4e4" stroke-width="0.7"/>
<line x1="547.40" y1="128.43" x2="553.50" y2="128.43" stroke="#e4e4e4" stroke-width="0.7"/>
<line x1="547.40" y1="139.87" x2="553.50" y2="139.87" stroke="#e4e4e4" stroke-width="0.7"/>
<line x1="547.40" y1="151.30" x2="553.50" y2="151.30" stroke="#e4e4e4" stroke-width="0.7"/>
<line x1="547.40" y1="162.73" x2="553.50" y2="162.73" stroke="#e4e4e4" stroke-width="0.7"/>
<line x1="547.40" y1="174.16" x2="553.50" y2="174.16" stroke="#e4e4e4" stroke-width="0.7"/>
<line x1="547.40" y1="185.60" x2="553.50" y2="185.60" stroke="#e4e4e4" stroke-width="0.7"/>
<line x1="547.40" y1="197.03" x2="553.50" y2="197.03" stroke="#e4e4e4" stroke-width="0.7"/>
<line x1="547.40" y1="208.46" x2="553.50" y2="208.46" stroke="#e4e4e4" stroke-width="0.7"/>
<line x1="547.40" y1="219.90" x2="553.50" y2="219.90" stroke="#e4e4e4" stroke-width="0.7"/>
<line x1="547.40" y1="231.33" x2="553.50" y2="231.33" stroke="#e4e4e4" stroke-width="0.7"/>
<line x1="547.40" y1="242.76" x2="553.50" y2="242.76" stroke="#e4e4e4" stroke-width="0.7"/>
<line x1="547.40" y1="254.20" x2="553.50" y2="254.20" stroke="#e4e4e4" stroke-width="0.7"/>
<line x1="547.40" y1="265.63" x2="553.50" y2="265.63" stroke="#e4e4e4" stroke-width="0.7"/>
<line x1="547.40" y1="277.06" x2="553.50" y2="277.06" stroke="#e4e4e4" stroke-width="0.7"/>
<line x1="547.40" y1="288.50" x2="553.50" y2="288.50" stroke="#e4e4e4" stroke-width="0.7"/>
<line x1="547.40" y1="299.93" x2="553.50" y2="299.93" stroke="#e4e4e4" stroke-width="0.7"/>
<line x1="547.40" y1="311.36" x2="553.50" y2="311.36" stroke="#e4e4e4" stroke-width="0.7"/>
<line x1="547.40" y1="322.79" x2="553.50" y2="322.79" stroke="#e4e4e4" stroke-width="0.7"/>
<line x1="547.40" y1="334.23" x2="553.50" y2="334.23" stroke="#e4e4e4" stroke-width="0.7"/>
<line x1="547.40" y1="345.66" x2="553.50" y2="345.66" stroke="#e4e4e4" stroke-width="0.7"/>
<line x1="547.40" y1="357.09" x2="553.50" y2="357.09" stroke="#e4e4e4" stroke-width="0.7"/>
<line x1="547.40" y1="368.53" x2="553.50" y2="368.53" stroke="#e4e4e4" stroke-width="0.7"/>
<line x1="547.40" y1="379.96" x2="553.50" y2="379.96" stroke="#e4e4e4" stroke-width="0.7"/>
<line x1="547.40" y1="391.39" x2="553.50" y2="391.39" stroke="#e4e4e4" stroke-width="0.7"/>
<line x1="547.40" y1="402.82" x2="553.50" y2="402.82" stroke="#e4e4e4" stroke-width="0.7"/>
<line x1="547.40" y1="414.26" x2="553.50" y2="414.26" stroke="#e4e4e4" stroke-width="0.7"/>
<line x1="547.40" y1="425.69" x2="553.50" y2="425.69" stroke="#e4e4e4" stroke-width="0.7"/>
<line x1="547.40" y1="437.12" x2="553.50" y2="437.12" stroke="#e4e4e4" stroke-width="0.7"/>
<line x1="547.40" y1="448.56" x2="553.50" y2="448.56" stroke="#e4e4e4" stroke-width="0.7"/>
<line x1="547.40" y1="459.99" x2="553.50" y2="459.99" stroke="#e4e4e4" stroke-width="0.7"/>
<line x1="547.40" y1="471.42" x2="553.50" y2="471.42" stroke="#e4e4e4" stroke-width="0.7"/>
<line x1="547.40" y1="482.86" x2="553.50" y2="482.86" stroke="#e4e4e4" stroke-width="0.7"/>
<line x1="547.40" y1="494.29" x2="553.50" y2="494.29" stroke="#e4e4e4" stroke-width="0.7"/>
<line x1="547.40" y1="505.72" x2="553.50" y2="505.72" stroke="#e4e4e4" stroke-width="0.7"/>
<line x1="547.40" y1="517.15" x2="553.50" y2="517.15" stroke="#e4e4e4" stroke-width="0.7"/>
<line x1="547.40" y1="528.59" x2="553.50" y2="528.59" stroke="#e4e4e4" stroke-width="0.7"/>
<line x1="547.40" y1="540.02" x2="553.50" y2="540.02" stroke="#e4e4e4" stroke-width="0.7"/>
<line x1="293.70" y1="93.80" x2="293.70" y2="533.00" stroke="#444444" stroke-width="1.3"/>
<line x1="330.40" y1="93.80" x2="330.40" y2="533.00" stroke="#444444" stroke-width="1.3"/>
<line x1="367.00" y1="93.80" x2="367.00" y2="533.00" stroke="#444444" stroke-width="1.3"/>
<line x1="403.10" y1="93.80" x2="403.10" y2="533.00" stroke="#444444" stroke-width="1.3"/>
<line x1="447.50" y1="93.80" x2="447.50" y2="533.00" stroke="#444444" stroke-width="1.3"/>
<line x1="501.60" y1="93.80" x2="501.60" y2="533.00" stroke="#444444" stroke-width="1.3"/>
<line x1="544.60" y1="93.80" x2="544.60" y2="533.00" stroke="#444444" stroke-width="1.3"/>
<line x1="269.50" y1="117.00" x2="544.60" y2="117.00" stroke="#444444" stroke-width="1.3"/>
<line x1="269.50" y1="128.43" x2="544.60" y2="128.43" stroke="#444444" stroke-width="1.3"/>
<line x1="269.50" y1="139.87" x2="544.60" y2="139.87" stroke="#444444" stroke-width="1.3"/>
<line x1="269.50" y1="151.30" x2="544.60" y2="151.30" stroke="#444444" stroke-width="1.3"/>
<line x1="269.50" y1="162.73" x2="544.60" y2="162.73" stroke="#444444" stroke-width="1.3"/>
<line x1="269.50" y1="174.16" x2="544.60" y2="174.16" stroke="#444444" stroke-width="1.3"/>
<line x1="269.50" y1="185.60" x2="544.60" y2="185.60" stroke="#444444" stroke-width="1.3"/>
<line x1="269.50" y1="197.03" x2="544.60" y2="197.03" stroke="#444444" stroke-width="1.3"/>
<line x1="269.50" y1="208.46" x2="544.60" y2="208.46" stroke="#444444" stroke-width="1.3"/>
<line x1="269.50" y1="219.90" x2="544.60" y2="219.90" stroke="#444444" stroke-width="1.3"/>
<line x1="269.50" y1="231.33" x2="544.60" y2="231.33" stroke="#444444" stroke-width="1.3"/>
<line x1="269.50" y1="242.76" x2="544.60" y2="242.76" stroke="#444444" stroke-width="1.3"/>
<line x1="269.50" y1="254.20" x2="544.60" y2="254.20" stroke="#444444" stroke-width="1.3"/>
<line x1="269.50" y1="265.63" x2="544.60" y2="265.63" stroke="#444444" stroke-width="1.3"/>
<line x1="269.50" y1="277.06" x2="544.60" y2="277.06" stroke="#444444" stroke-width="1.3"/>
<line x1="269.50" y1="288.50" x2="544.60" y2="288.50" stroke="#444444" stroke-width="1.3"/>
<line x1="269.50" y1="299.93" x2="544.60" y2="299.93" stroke="#444444" stroke-width="1.3"/>
<line x1="269.50" y1="311.36" x2="544.60" y2="311.36" stroke="#444444" stroke-width="1.3"/>
<line x1="269.50" y1="322.79" x2="544.60" y2="322.79" stroke="#444444" stroke-width="1.3"/>
<line x1="269.50" y1="334.23" x2="544.60" y2="334.23" stroke="#444444" stroke-width="1.3"/>
<line x1="269.50" y1="345.66" x2="544.60" y2="345.66" stroke="#444444" stroke-width="1.3"/>
<line x1="269.50" y1="357.09" x2="544.60" y2="357.09" stroke="#444444" stroke-width="1.3"/>
<line x1="269.50" y1="368.53" x2="544.60" y2="368.53" stroke="#444444" stroke-width="1.3"/>
<line x1="269.50" y1="379.96" x2="544.60" y2="379.96" stroke="#444444" stroke-width="1.3"/>
<line x1="269.50" y1="391.39" x2="544.60" y2="391.39" stroke="#444444" stroke-width="1.3"/>
<line x1="269.50" y1="402.82" x2="544.60" y2="402.82" stroke="#444444" stroke-width="1.3"/>
<line x1="269.50" y1="414.26" x2="544.60" y2="414.26" stroke="#444444" stroke-width="1.3"/>
<line x1="269.50" y1="425.69" x2="544.60" y2="425.69" stroke="#444444" stroke-width="1.3"/>
<line x1="269.50" y1="437.12" x2="544.60" y2="437.12" stroke="#444444" stroke-width="1.3"/>
<line x1="269.50" y1="448.56" x2="544.60" y2="448.56" stroke="#444444" stroke-width="1.3"/>
<line x1="269.50" y1="459.99" x2="544.60" y2="459.99" stroke="#444444" stroke-width="1.3"/>
<line x1="269.50" y1="471.42" x2="544.60" y2="471.42" stroke="#444444" stroke-width="1.3"/>
<line x1="269.50" y1="482.86" x2="544.60" y2="482.86" stroke="#444444" stroke-width="1.3"/>
<line x1="269.50" y1="494.29" x2="544.60" y2="494.29" stroke="#444444" stroke-width="1.3"/>
<line x1="269.50" y1="505.72" x2="544.60" y2="505.72" stroke="#444444" stroke-width="1.3"/>
<line x1="269.50" y1="517.15" x2="544.60" y2="517.15" stroke="#444444" stroke-width="1.3"/>
<line x1="269.50" y1="528.59" x2="544.60" y2="528.59" stroke="#444444" stroke-width="1.3"/>
<line x1="269.50" y1="540.02" x2="544.60" y2="540.02" stroke="#444444" stroke-width="1.3"/>
<clipPath id="cL"><rect x="447.5" y="94" width="53.6" height="23"/></clipPath>
<text x="270.70" y="114.60" font-size="8.1" fill="#111" font-weight="bold" textLength="4.20" lengthAdjust="spacingAndGlyphs" stroke="#111" stroke-width="0.16">я</text>
<text x="295.30" y="114.60" font-size="8.1" fill="#111" font-weight="bold" textLength="30.50" lengthAdjust="spacingAndGlyphs" stroke="#111" stroke-width="0.16">Позиция</text>
<text x="332.00" y="114.60" font-size="8.1" fill="#111" font-weight="bold" textLength="32.00" lengthAdjust="spacingAndGlyphs" stroke="#111" stroke-width="0.16">Зарплата</text>
<text x="368.40" y="114.60" font-size="8.1" fill="#111" font-weight="bold" textLength="27.50" lengthAdjust="spacingAndGlyphs" stroke="#111" stroke-width="0.16">Возраст</text>
<text x="404.90" y="114.60" font-size="8.1" fill="#111" font-weight="bold" textLength="23.40" lengthAdjust="spacingAndGlyphs" stroke="#111" stroke-width="0.16">ОТиТБ</text>
<text x="449.00" y="114.60" font-size="8.1" fill="#111" font-weight="bold" clip-path="url(#cL)" textLength="53.00" lengthAdjust="spacingAndGlyphs" stroke="#111" stroke-width="0.16">Группа по элек</text>
<text x="502.60" y="114.60" font-size="8.1" fill="#111" font-weight="bold" textLength="16.80" lengthAdjust="spacingAndGlyphs" stroke="#111" stroke-width="0.16">Дата</text>
<text x="290.80" y="126.25" font-size="8.2" fill="#1e1e1e" text-anchor="end" textLength="22.10" lengthAdjust="spacingAndGlyphs" stroke="#1e1e1e" stroke-width="0.16">жской</text>
<text x="295.40" y="126.25" font-size="8.2" fill="#1e1e1e" textLength="29.30" lengthAdjust="spacingAndGlyphs" stroke="#1e1e1e" stroke-width="0.16">Закрыта</text>
<text x="365.10" y="126.25" font-size="8.2" fill="#1e1e1e" text-anchor="end" textLength="20.15" lengthAdjust="spacingAndGlyphs" stroke="#1e1e1e" stroke-width="0.16">60532</text>
<text x="401.80" y="126.25" font-size="8.2" fill="#1e1e1e" text-anchor="end" textLength="8.06" lengthAdjust="spacingAndGlyphs" stroke="#1e1e1e" stroke-width="0.16">28</text>
<text x="445.80" y="126.25" font-size="8.2" fill="#1e1e1e" text-anchor="end" textLength="30.38" lengthAdjust="spacingAndGlyphs" stroke="#1e1e1e" stroke-width="0.16">2/5/2017</text>
<text x="500.00" y="126.25" font-size="8.2" fill="#1e1e1e" text-anchor="end" textLength="34.41" lengthAdjust="spacingAndGlyphs" stroke="#1e1e1e" stroke-width="0.16">2/22/2018</text>
<text x="543.30" y="126.25" font-size="8.2" fill="#1e1e1e" text-anchor="end" textLength="34.41" lengthAdjust="spacingAndGlyphs" stroke="#1e1e1e" stroke-width="0.16">3/20/2016</text>
<text x="290.80" y="137.68" font-size="8.2" fill="#1e1e1e" text-anchor="end" textLength="22.10" lengthAdjust="spacingAndGlyphs" stroke="#1e1e1e" stroke-width="0.16">жской</text>
<text x="295.40" y="137.68" font-size="8.2" fill="#1e1e1e" textLength="29.30" lengthAdjust="spacingAndGlyphs" stroke="#1e1e1e" stroke-width="0.16">Закрыта</text>
<text x="365.10" y="137.68" font-size="8.2" fill="#1e1e1e" text-anchor="end" textLength="20.15" lengthAdjust="spacingAndGlyphs" stroke="#1e1e1e" stroke-width="0.16">33050</text>
<text x="401.80" y="137.68" font-size="8.2" fill="#1e1e1e" text-anchor="end" textLength="8.06" lengthAdjust="spacingAndGlyphs" stroke="#1e1e1e" stroke-width="0.16">43</text>
<text x="445.80" y="137.68" font-size="8.2" fill="#1e1e1e" text-anchor="end" textLength="34.41" lengthAdjust="spacingAndGlyphs" stroke="#1e1e1e" stroke-width="0.16">2/15/2017</text>
<text x="500.00" y="137.68" font-size="8.2" fill="#1e1e1e" text-anchor="end" textLength="34.41" lengthAdjust="spacingAndGlyphs" stroke="#1e1e1e" stroke-width="0.16">6/22/2017</text>
<text x="543.30" y="137.68" font-size="8.2" fill="#1e1e1e" text-anchor="end" textLength="38.44" lengthAdjust="spacingAndGlyphs" stroke="#1e1e1e" stroke-width="0.16">11/26/2015</text>
<text x="290.80" y="149.12" font-size="8.2" fill="#1e1e1e" text-anchor="end" textLength="22.10" lengthAdjust="spacingAndGlyphs" stroke="#1e1e1e" stroke-width="0.16">жской</text>
<text x="295.40" y="149.12" font-size="8.2" fill="#1e1e1e" textLength="29.30" lengthAdjust="spacingAndGlyphs" stroke="#1e1e1e" stroke-width="0.16">Закрыта</text>
<text x="365.10" y="149.12" font-size="8.2" fill="#1e1e1e" text-anchor="end" textLength="20.15" lengthAdjust="spacingAndGlyphs" stroke="#1e1e1e" stroke-width="0.16">79214</text>
<text x="401.80" y="149.12" font-size="8.2" fill="#1e1e1e" text-anchor="end" textLength="8.06" lengthAdjust="spacingAndGlyphs" stroke="#1e1e1e" stroke-width="0.16">36</text>
<text x="445.80" y="149.12" font-size="8.2" fill="#1e1e1e" text-anchor="end" textLength="34.41" lengthAdjust="spacingAndGlyphs" stroke="#1e1e1e" stroke-width="0.16">1/16/2017</text>
<text x="500.00" y="149.12" font-size="8.2" fill="#1e1e1e" text-anchor="end" textLength="34.41" lengthAdjust="spacingAndGlyphs" stroke="#1e1e1e" stroke-width="0.16">9/19/2017</text>
<text x="543.30" y="149.12" font-size="8.2" fill="#1e1e1e" text-anchor="end" textLength="38.44" lengthAdjust="spacingAndGlyphs" stroke="#1e1e1e" stroke-width="0.16">12/25/2012</text>
<text x="290.80" y="160.55" font-size="8.2" fill="#1e1e1e" text-anchor="end" textLength="22.10" lengthAdjust="spacingAndGlyphs" stroke="#1e1e1e" stroke-width="0.16">жской</text>
<text x="295.40" y="160.55" font-size="8.2" fill="#1e1e1e" textLength="29.30" lengthAdjust="spacingAndGlyphs" stroke="#1e1e1e" stroke-width="0.16">Закрыта</text>
<text x="365.10" y="160.55" font-size="8.2" fill="#1e1e1e" text-anchor="end" textLength="20.15" lengthAdjust="spacingAndGlyphs" stroke="#1e1e1e" stroke-width="0.16">51012</text>
<text x="401.80" y="160.55" font-size="8.2" fill="#1e1e1e" text-anchor="end" textLength="8.06" lengthAdjust="spacingAndGlyphs" stroke="#1e1e1e" stroke-width="0.16">42</text>
<text x="445.80" y="160.55" font-size="8.2" fill="#1e1e1e" text-anchor="end" textLength="30.38" lengthAdjust="spacingAndGlyphs" stroke="#1e1e1e" stroke-width="0.16">8/3/2017</text>
<text x="500.00" y="160.55" font-size="8.2" fill="#1e1e1e" text-anchor="end" textLength="34.41" lengthAdjust="spacingAndGlyphs" stroke="#1e1e1e" stroke-width="0.16">10/3/2017</text>
<text x="543.30" y="160.55" font-size="8.2" fill="#1e1e1e" text-anchor="end" textLength="38.44" lengthAdjust="spacingAndGlyphs" stroke="#1e1e1e" stroke-width="0.16">12/27/2017</text>
<text x="290.80" y="171.98" font-size="8.2" fill="#1e1e1e" text-anchor="end" textLength="22.10" lengthAdjust="spacingAndGlyphs" stroke="#1e1e1e" stroke-width="0.16">жской</text>
<text x="295.40" y="171.98" font-size="8.2" fill="#1e1e1e" textLength="29.30" lengthAdjust="spacingAndGlyphs" stroke="#1e1e1e" stroke-width="0.16">Закрыта</text>
<text x="365.10" y="171.98" font-size="8.2" fill="#1e1e1e" text-anchor="end" textLength="20.15" lengthAdjust="spacingAndGlyphs" stroke="#1e1e1e" stroke-width="0.16">33088</text>
<text x="401.80" y="171.98" font-size="8.2" fill="#1e1e1e" text-anchor="end" textLength="8.06" lengthAdjust="spacingAndGlyphs" stroke="#1e1e1e" stroke-width="0.16">53</text>
<text x="543.30" y="171.98" font-size="8.2" fill="#1e1e1e" text-anchor="end" textLength="34.41" lengthAdjust="spacingAndGlyphs" stroke="#1e1e1e" stroke-width="0.16">1/27/2013</text>
<text x="290.80" y="183.41" font-size="8.2" fill="#1e1e1e" text-anchor="end" textLength="22.10" lengthAdjust="spacingAndGlyphs" stroke="#1e1e1e" stroke-width="0.16">жской</text>
<text x="295.40" y="183.41" font-size="8.2" fill="#1e1e1e" textLength="29.30" lengthAdjust="spacingAndGlyphs" stroke="#1e1e1e" stroke-width="0.16">Закрыта</text>
<text x="365.10" y="183.41" font-size="8.2" fill="#1e1e1e" text-anchor="end" textLength="20.15" lengthAdjust="spacingAndGlyphs" stroke="#1e1e1e" stroke-width="0.16">30293</text>
<text x="401.80" y="183.41" font-size="8.2" fill="#1e1e1e" text-anchor="end" textLength="8.06" lengthAdjust="spacingAndGlyphs" stroke="#1e1e1e" stroke-width="0.16">50</text>
<text x="445.80" y="183.41" font-size="8.2" fill="#1e1e1e" text-anchor="end" textLength="38.44" lengthAdjust="spacingAndGlyphs" stroke="#1e1e1e" stroke-width="0.16">11/27/2017</text>
<text x="500.00" y="183.41" font-size="8.2" fill="#1e1e1e" text-anchor="end" textLength="30.38" lengthAdjust="spacingAndGlyphs" stroke="#1e1e1e" stroke-width="0.16">1/2/2017</text>
<text x="543.30" y="183.41" font-size="8.2" fill="#1e1e1e" text-anchor="end" textLength="34.41" lengthAdjust="spacingAndGlyphs" stroke="#1e1e1e" stroke-width="0.16">9/12/2015</text>
<text x="290.80" y="194.85" font-size="8.2" fill="#1e1e1e" text-anchor="end" textLength="22.10" lengthAdjust="spacingAndGlyphs" stroke="#1e1e1e" stroke-width="0.16">жской</text>
<text x="295.40" y="194.85" font-size="8.2" fill="#1e1e1e" textLength="29.30" lengthAdjust="spacingAndGlyphs" stroke="#1e1e1e" stroke-width="0.16">Закрыта</text>
<text x="365.10" y="194.85" font-size="8.2" fill="#1e1e1e" text-anchor="end" textLength="20.15" lengthAdjust="spacingAndGlyphs" stroke="#1e1e1e" stroke-width="0.16">35772</text>
<text x="401.80" y="194.85" font-size="8.2" fill="#1e1e1e" text-anchor="end" textLength="8.06" lengthAdjust="spacingAndGlyphs" stroke="#1e1e1e" stroke-width="0.16">28</text>
<text x="445.80" y="194.85" font-size="8.2" fill="#1e1e1e" text-anchor="end" textLength="34.41" lengthAdjust="spacingAndGlyphs" stroke="#1e1e1e" stroke-width="0.16">4/25/2017</text>
<text x="500.00" y="194.85" font-size="8.2" fill="#1e1e1e" text-anchor="end" textLength="30.38" lengthAdjust="spacingAndGlyphs" stroke="#1e1e1e" stroke-width="0.16">9/3/2017</text>
<text x="543.30" y="194.85" font-size="8.2" fill="#1e1e1e" text-anchor="end" textLength="34.41" lengthAdjust="spacingAndGlyphs" stroke="#1e1e1e" stroke-width="0.16">2/14/2014</text>
<text x="290.80" y="206.28" font-size="8.2" fill="#1e1e1e" text-anchor="end" textLength="22.10" lengthAdjust="spacingAndGlyphs" stroke="#1e1e1e" stroke-width="0.16">жской</text>
<text x="295.40" y="206.28" font-size="8.2" fill="#1e1e1e" textLength="29.30" lengthAdjust="spacingAndGlyphs" stroke="#1e1e1e" stroke-width="0.16">Закрыта</text>
<text x="365.10" y="206.28" font-size="8.2" fill="#1e1e1e" text-anchor="end" textLength="20.15" lengthAdjust="spacingAndGlyphs" stroke="#1e1e1e" stroke-width="0.16">25645</text>
<text x="401.80" y="206.28" font-size="8.2" fill="#1e1e1e" text-anchor="end" textLength="8.06" lengthAdjust="spacingAndGlyphs" stroke="#1e1e1e" stroke-width="0.16">38</text>
<text x="445.80" y="206.28" font-size="8.2" fill="#1e1e1e" text-anchor="end" textLength="34.41" lengthAdjust="spacingAndGlyphs" stroke="#1e1e1e" stroke-width="0.16">9/21/2017</text>
<text x="500.00" y="206.28" font-size="8.2" fill="#1e1e1e" text-anchor="end" textLength="34.41" lengthAdjust="spacingAndGlyphs" stroke="#1e1e1e" stroke-width="0.16">9/28/2017</text>
<text x="543.30" y="206.28" font-size="8.2" fill="#1e1e1e" text-anchor="end" textLength="38.44" lengthAdjust="spacingAndGlyphs" stroke="#1e1e1e" stroke-width="0.16">12/29/2016</text>
<text x="290.80" y="217.71" font-size="8.2" fill="#1e1e1e" text-anchor="end" textLength="22.10" lengthAdjust="spacingAndGlyphs" stroke="#1e1e1e" stroke-width="0.16">жской</text>
<text x="295.40" y="217.71" font-size="8.2" fill="#1e1e1e" textLength="29.30" lengthAdjust="spacingAndGlyphs" stroke="#1e1e1e" stroke-width="0.16">Закрыта</text>
<text x="365.10" y="217.71" font-size="8.2" fill="#1e1e1e" text-anchor="end" textLength="20.15" lengthAdjust="spacingAndGlyphs" stroke="#1e1e1e" stroke-width="0.16">76769</text>
<text x="401.80" y="217.71" font-size="8.2" fill="#1e1e1e" text-anchor="end" textLength="8.06" lengthAdjust="spacingAndGlyphs" stroke="#1e1e1e" stroke-width="0.16">22</text>
<text x="445.80" y="217.71" font-size="8.2" fill="#1e1e1e" text-anchor="end" textLength="34.41" lengthAdjust="spacingAndGlyphs" stroke="#1e1e1e" stroke-width="0.16">8/24/2017</text>
<text x="500.00" y="217.71" font-size="8.2" fill="#1e1e1e" text-anchor="end" textLength="30.38" lengthAdjust="spacingAndGlyphs" stroke="#1e1e1e" stroke-width="0.16">1/3/2017</text>
<text x="543.30" y="217.71" font-size="8.2" fill="#1e1e1e" text-anchor="end" textLength="34.41" lengthAdjust="spacingAndGlyphs" stroke="#1e1e1e" stroke-width="0.16">4/20/2016</text>
<text x="290.80" y="229.15" font-size="8.2" fill="#1e1e1e" text-anchor="end" textLength="22.10" lengthAdjust="spacingAndGlyphs" stroke="#1e1e1e" stroke-width="0.16">жской</text>
<text x="295.40" y="229.15" font-size="8.2" fill="#1e1e1e" textLength="29.30" lengthAdjust="spacingAndGlyphs" stroke="#1e1e1e" stroke-width="0.16">Закрыта</text>
<text x="365.10" y="229.15" font-size="8.2" fill="#1e1e1e" text-anchor="end" textLength="20.15" lengthAdjust="spacingAndGlyphs" stroke="#1e1e1e" stroke-width="0.16">22680</text>
<text x="401.80" y="229.15" font-size="8.2" fill="#1e1e1e" text-anchor="end" textLength="8.06" lengthAdjust="spacingAndGlyphs" stroke="#1e1e1e" stroke-width="0.16">54</text>
<text x="445.80" y="229.15" font-size="8.2" fill="#1e1e1e" text-anchor="end" textLength="30.38" lengthAdjust="spacingAndGlyphs" stroke="#1e1e1e" stroke-width="0.16">3/4/2018</text>
<text x="500.00" y="229.15" font-size="8.2" fill="#1e1e1e" text-anchor="end" textLength="34.41" lengthAdjust="spacingAndGlyphs" stroke="#1e1e1e" stroke-width="0.16">6/12/2017</text>
<text x="543.30" y="229.15" font-size="8.2" fill="#1e1e1e" text-anchor="end" textLength="34.41" lengthAdjust="spacingAndGlyphs" stroke="#1e1e1e" stroke-width="0.16">7/21/2014</text>
<text x="290.80" y="240.58" font-size="8.2" fill="#1e1e1e" text-anchor="end" textLength="22.10" lengthAdjust="spacingAndGlyphs" stroke="#1e1e1e" stroke-width="0.16">жской</text>
<text x="295.40" y="240.58" font-size="8.2" fill="#1e1e1e" textLength="29.30" lengthAdjust="spacingAndGlyphs" stroke="#1e1e1e" stroke-width="0.16">Закрыта</text>
<text x="365.10" y="240.58" font-size="8.2" fill="#1e1e1e" text-anchor="end" textLength="20.15" lengthAdjust="spacingAndGlyphs" stroke="#1e1e1e" stroke-width="0.16">29198</text>
<text x="401.80" y="240.58" font-size="8.2" fill="#1e1e1e" text-anchor="end" textLength="8.06" lengthAdjust="spacingAndGlyphs" stroke="#1e1e1e" stroke-width="0.16">41</text>
<text x="445.80" y="240.58" font-size="8.2" fill="#1e1e1e" text-anchor="end" textLength="30.38" lengthAdjust="spacingAndGlyphs" stroke="#1e1e1e" stroke-width="0.16">4/1/2017</text>
<text x="500.00" y="240.58" font-size="8.2" fill="#1e1e1e" text-anchor="end" textLength="34.41" lengthAdjust="spacingAndGlyphs" stroke="#1e1e1e" stroke-width="0.16">11/5/2017</text>
<text x="543.30" y="240.58" font-size="8.2" fill="#1e1e1e" text-anchor="end" textLength="34.41" lengthAdjust="spacingAndGlyphs" stroke="#1e1e1e" stroke-width="0.16">10/8/2015</text>
<text x="290.80" y="252.01" font-size="8.2" fill="#1e1e1e" text-anchor="end" textLength="22.10" lengthAdjust="spacingAndGlyphs" stroke="#1e1e1e" stroke-width="0.16">жской</text>
<text x="295.40" y="252.01" font-size="8.2" fill="#1e1e1e" textLength="29.30" lengthAdjust="spacingAndGlyphs" stroke="#1e1e1e" stroke-width="0.16">Закрыта</text>
<text x="365.10" y="252.01" font-size="8.2" fill="#1e1e1e" text-anchor="end" textLength="20.15" lengthAdjust="spacingAndGlyphs" stroke="#1e1e1e" stroke-width="0.16">35803</text>
<text x="401.80" y="252.01" font-size="8.2" fill="#1e1e1e" text-anchor="end" textLength="8.06" lengthAdjust="spacingAndGlyphs" stroke="#1e1e1e" stroke-width="0.16">46</text>
<text x="445.80" y="252.01" font-size="8.2" fill="#1e1e1e" text-anchor="end" textLength="34.41" lengthAdjust="spacingAndGlyphs" stroke="#1e1e1e" stroke-width="0.16">5/19/2017</text>
<text x="500.00" y="252.01" font-size="8.2" fill="#1e1e1e" text-anchor="end" textLength="34.41" lengthAdjust="spacingAndGlyphs" stroke="#1e1e1e" stroke-width="0.16">10/7/2017</text>
<text x="543.30" y="252.01" font-size="8.2" fill="#1e1e1e" text-anchor="end" textLength="34.41" lengthAdjust="spacingAndGlyphs" stroke="#1e1e1e" stroke-width="0.16">9/22/2016</text>
<text x="290.80" y="263.45" font-size="8.2" fill="#1e1e1e" text-anchor="end" textLength="22.10" lengthAdjust="spacingAndGlyphs" stroke="#1e1e1e" stroke-width="0.16">жской</text>
<text x="295.40" y="263.45" font-size="8.2" fill="#1e1e1e" textLength="29.30" lengthAdjust="spacingAndGlyphs" stroke="#1e1e1e" stroke-width="0.16">Закрыта</text>
<text x="365.10" y="263.45" font-size="8.2" fill="#1e1e1e" text-anchor="end" textLength="20.15" lengthAdjust="spacingAndGlyphs" stroke="#1e1e1e" stroke-width="0.16">48666</text>
<text x="401.80" y="263.45" font-size="8.2" fill="#1e1e1e" text-anchor="end" textLength="8.06" lengthAdjust="spacingAndGlyphs" stroke="#1e1e1e" stroke-width="0.16">50</text>
<text x="543.30" y="263.45" font-size="8.2" fill="#1e1e1e" text-anchor="end" textLength="34.41" lengthAdjust="spacingAndGlyphs" stroke="#1e1e1e" stroke-width="0.16">9/29/2017</text>
<text x="290.80" y="274.88" font-size="8.2" fill="#1e1e1e" text-anchor="end" textLength="22.10" lengthAdjust="spacingAndGlyphs" stroke="#1e1e1e" stroke-width="0.16">жской</text>
<text x="295.40" y="274.88" font-size="8.2" fill="#1e1e1e" textLength="29.30" lengthAdjust="spacingAndGlyphs" stroke="#1e1e1e" stroke-width="0.16">Закрыта</text>
<text x="365.10" y="274.88" font-size="8.2" fill="#1e1e1e" text-anchor="end" textLength="20.15" lengthAdjust="spacingAndGlyphs" stroke="#1e1e1e" stroke-width="0.16">79648</text>
<text x="401.80" y="274.88" font-size="8.2" fill="#1e1e1e" text-anchor="end" textLength="8.06" lengthAdjust="spacingAndGlyphs" stroke="#1e1e1e" stroke-width="0.16">60</text>
<text x="445.80" y="274.88" font-size="8.2" fill="#1e1e1e" text-anchor="end" textLength="30.38" lengthAdjust="spacingAndGlyphs" stroke="#1e1e1e" stroke-width="0.16">1/7/2017</text>
<text x="500.00" y="274.88" font-size="8.2" fill="#1e1e1e" text-anchor="end" textLength="34.41" lengthAdjust="spacingAndGlyphs" stroke="#1e1e1e" stroke-width="0.16">1/21/2018</text>
<text x="543.30" y="274.88" font-size="8.2" fill="#1e1e1e" text-anchor="end" textLength="34.41" lengthAdjust="spacingAndGlyphs" stroke="#1e1e1e" stroke-width="0.16">7/27/2016</text>
<text x="290.80" y="286.31" font-size="8.2" fill="#1e1e1e" text-anchor="end" textLength="22.10" lengthAdjust="spacingAndGlyphs" stroke="#1e1e1e" stroke-width="0.16">жской</text>
<text x="295.40" y="286.31" font-size="8.2" fill="#1e1e1e" textLength="29.30" lengthAdjust="spacingAndGlyphs" stroke="#1e1e1e" stroke-width="0.16">Закрыта</text>
<text x="365.10" y="286.31" font-size="8.2" fill="#1e1e1e" text-anchor="end" textLength="20.15" lengthAdjust="spacingAndGlyphs" stroke="#1e1e1e" stroke-width="0.16">22423</text>
<text x="401.80" y="286.31" font-size="8.2" fill="#1e1e1e" text-anchor="end" textLength="8.06" lengthAdjust="spacingAndGlyphs" stroke="#1e1e1e" stroke-width="0.16">36</text>
<text x="445.80" y="286.31" font-size="8.2" fill="#1e1e1e" text-anchor="end" textLength="34.41" lengthAdjust="spacingAndGlyphs" stroke="#1e1e1e" stroke-width="0.16">4/29/2017</text>
<text x="500.00" y="286.31" font-size="8.2" fill="#1e1e1e" text-anchor="end" textLength="38.44" lengthAdjust="spacingAndGlyphs" stroke="#1e1e1e" stroke-width="0.16">11/24/2017</text>
<text x="543.30" y="286.31" font-size="8.2" fill="#1e1e1e" text-anchor="end" textLength="34.41" lengthAdjust="spacingAndGlyphs" stroke="#1e1e1e" stroke-width="0.16">1/14/2018</text>
<text x="290.80" y="297.75" font-size="8.2" fill="#1e1e1e" text-anchor="end" textLength="22.10" lengthAdjust="spacingAndGlyphs" stroke="#1e1e1e" stroke-width="0.16">жской</text>
<text x="295.40" y="297.75" font-size="8.2" fill="#1e1e1e" textLength="29.30" lengthAdjust="spacingAndGlyphs" stroke="#1e1e1e" stroke-width="0.16">Закрыта</text>
<text x="365.10" y="297.75" font-size="8.2" fill="#1e1e1e" text-anchor="end" textLength="20.15" lengthAdjust="spacingAndGlyphs" stroke="#1e1e1e" stroke-width="0.16">77049</text>
<text x="401.80" y="297.75" font-size="8.2" fill="#1e1e1e" text-anchor="end" textLength="8.06" lengthAdjust="spacingAndGlyphs" stroke="#1e1e1e" stroke-width="0.16">50</text>
<text x="445.80" y="297.75" font-size="8.2" fill="#1e1e1e" text-anchor="end" textLength="38.44" lengthAdjust="spacingAndGlyphs" stroke="#1e1e1e" stroke-width="0.16">11/20/2017</text>
<text x="500.00" y="297.75" font-size="8.2" fill="#1e1e1e" text-anchor="end" textLength="38.44" lengthAdjust="spacingAndGlyphs" stroke="#1e1e1e" stroke-width="0.16">12/13/2017</text>
<text x="543.30" y="297.75" font-size="8.2" fill="#1e1e1e" text-anchor="end" textLength="30.38" lengthAdjust="spacingAndGlyphs" stroke="#1e1e1e" stroke-width="0.16">3/3/2014</text>
<text x="290.80" y="309.18" font-size="8.2" fill="#1e1e1e" text-anchor="end" textLength="22.10" lengthAdjust="spacingAndGlyphs" stroke="#1e1e1e" stroke-width="0.16">жской</text>
<text x="295.40" y="309.18" font-size="8.2" fill="#1e1e1e" textLength="29.30" lengthAdjust="spacingAndGlyphs" stroke="#1e1e1e" stroke-width="0.16">Закрыта</text>
<text x="365.10" y="309.18" font-size="8.2" fill="#1e1e1e" text-anchor="end" textLength="20.15" lengthAdjust="spacingAndGlyphs" stroke="#1e1e1e" stroke-width="0.16">74301</text>
<text x="401.80" y="309.18" font-size="8.2" fill="#1e1e1e" text-anchor="end" textLength="8.06" lengthAdjust="spacingAndGlyphs" stroke="#1e1e1e" stroke-width="0.16">24</text>
<text x="543.30" y="309.18" font-size="8.2" fill="#1e1e1e" text-anchor="end" textLength="34.41" lengthAdjust="spacingAndGlyphs" stroke="#1e1e1e" stroke-width="0.16">8/17/2015</text>
<text x="290.80" y="320.61" font-size="8.2" fill="#1e1e1e" text-anchor="end" textLength="22.10" lengthAdjust="spacingAndGlyphs" stroke="#1e1e1e" stroke-width="0.16">жской</text>
<text x="295.40" y="320.61" font-size="8.2" fill="#1e1e1e" textLength="29.30" lengthAdjust="spacingAndGlyphs" stroke="#1e1e1e" stroke-width="0.16">Закрыта</text>
<text x="365.10" y="320.61" font-size="8.2" fill="#1e1e1e" text-anchor="end" textLength="20.15" lengthAdjust="spacingAndGlyphs" stroke="#1e1e1e" stroke-width="0.16">68952</text>
<text x="401.80" y="320.61" font-size="8.2" fill="#1e1e1e" text-anchor="end" textLength="8.06" lengthAdjust="spacingAndGlyphs" stroke="#1e1e1e" stroke-width="0.16">49</text>
<text x="445.80" y="320.61" font-size="8.2" fill="#1e1e1e" text-anchor="end" textLength="30.38" lengthAdjust="spacingAndGlyphs" stroke="#1e1e1e" stroke-width="0.16">7/4/2017</text>
<text x="500.00" y="320.61" font-size="8.2" fill="#1e1e1e" text-anchor="end" textLength="30.38" lengthAdjust="spacingAndGlyphs" stroke="#1e1e1e" stroke-width="0.16">2/8/2017</text>
<text x="543.30" y="320.61" font-size="8.2" fill="#1e1e1e" text-anchor="end" textLength="34.41" lengthAdjust="spacingAndGlyphs" stroke="#1e1e1e" stroke-width="0.16">4/29/2018</text>
<text x="290.80" y="332.04" font-size="8.2" fill="#1e1e1e" text-anchor="end" textLength="22.10" lengthAdjust="spacingAndGlyphs" stroke="#1e1e1e" stroke-width="0.16">жской</text>
<text x="295.40" y="332.04" font-size="8.2" fill="#1e1e1e" textLength="29.30" lengthAdjust="spacingAndGlyphs" stroke="#1e1e1e" stroke-width="0.16">Закрыта</text>
<text x="365.10" y="332.04" font-size="8.2" fill="#1e1e1e" text-anchor="end" textLength="20.15" lengthAdjust="spacingAndGlyphs" stroke="#1e1e1e" stroke-width="0.16">42729</text>
<text x="401.80" y="332.04" font-size="8.2" fill="#1e1e1e" text-anchor="end" textLength="8.06" lengthAdjust="spacingAndGlyphs" stroke="#1e1e1e" stroke-width="0.16">64</text>
<text x="445.80" y="332.04" font-size="8.2" fill="#1e1e1e" text-anchor="end" textLength="34.41" lengthAdjust="spacingAndGlyphs" stroke="#1e1e1e" stroke-width="0.16">1/17/2018</text>
<text x="500.00" y="332.04" font-size="8.2" fill="#1e1e1e" text-anchor="end" textLength="34.41" lengthAdjust="spacingAndGlyphs" stroke="#1e1e1e" stroke-width="0.16">1/16/2018</text>
<text x="543.30" y="332.04" font-size="8.2" fill="#1e1e1e" text-anchor="end" textLength="34.41" lengthAdjust="spacingAndGlyphs" stroke="#1e1e1e" stroke-width="0.16">5/10/2014</text>
<text x="290.80" y="343.48" font-size="8.2" fill="#1e1e1e" text-anchor="end" textLength="22.10" lengthAdjust="spacingAndGlyphs" stroke="#1e1e1e" stroke-width="0.16">жской</text>
<text x="295.40" y="343.48" font-size="8.2" fill="#1e1e1e" textLength="29.30" lengthAdjust="spacingAndGlyphs" stroke="#1e1e1e" stroke-width="0.16">Закрыта</text>
<text x="365.10" y="343.48" font-size="8.2" fill="#1e1e1e" text-anchor="end" textLength="20.15" lengthAdjust="spacingAndGlyphs" stroke="#1e1e1e" stroke-width="0.16">77265</text>
<text x="401.80" y="343.48" font-size="8.2" fill="#1e1e1e" text-anchor="end" textLength="8.06" lengthAdjust="spacingAndGlyphs" stroke="#1e1e1e" stroke-width="0.16">23</text>
<text x="445.80" y="343.48" font-size="8.2" fill="#1e1e1e" text-anchor="end" textLength="34.41" lengthAdjust="spacingAndGlyphs" stroke="#1e1e1e" stroke-width="0.16">9/29/2017</text>
<text x="500.00" y="343.48" font-size="8.2" fill="#1e1e1e" text-anchor="end" textLength="38.44" lengthAdjust="spacingAndGlyphs" stroke="#1e1e1e" stroke-width="0.16">10/10/2017</text>
<text x="543.30" y="343.48" font-size="8.2" fill="#1e1e1e" text-anchor="end" textLength="38.44" lengthAdjust="spacingAndGlyphs" stroke="#1e1e1e" stroke-width="0.16">11/22/2016</text>
<text x="290.80" y="354.91" font-size="8.2" fill="#1e1e1e" text-anchor="end" textLength="20.70" lengthAdjust="spacingAndGlyphs" stroke="#1e1e1e" stroke-width="0.16">нский</text>
<text x="295.40" y="354.91" font-size="8.2" fill="#1e1e1e" textLength="29.30" lengthAdjust="spacingAndGlyphs" stroke="#1e1e1e" stroke-width="0.16">Закрыта</text>
<text x="365.10" y="354.91" font-size="8.2" fill="#1e1e1e" text-anchor="end" textLength="20.15" lengthAdjust="spacingAndGlyphs" stroke="#1e1e1e" stroke-width="0.16">73540</text>
<text x="401.80" y="354.91" font-size="8.2" fill="#1e1e1e" text-anchor="end" textLength="8.06" lengthAdjust="spacingAndGlyphs" stroke="#1e1e1e" stroke-width="0.16">53</text>
<text x="445.80" y="354.91" font-size="8.2" fill="#1e1e1e" text-anchor="end" textLength="34.41" lengthAdjust="spacingAndGlyphs" stroke="#1e1e1e" stroke-width="0.16">8/31/2017</text>
<text x="500.00" y="354.91" font-size="8.2" fill="#1e1e1e" text-anchor="end" textLength="34.41" lengthAdjust="spacingAndGlyphs" stroke="#1e1e1e" stroke-width="0.16">4/15/2018</text>
<text x="543.30" y="354.91" font-size="8.2" fill="#1e1e1e" text-anchor="end" textLength="34.41" lengthAdjust="spacingAndGlyphs" stroke="#1e1e1e" stroke-width="0.16">12/8/2012</text>
<text x="290.80" y="366.34" font-size="8.2" fill="#1e1e1e" text-anchor="end" textLength="20.70" lengthAdjust="spacingAndGlyphs" stroke="#1e1e1e" stroke-width="0.16">нский</text>
<text x="295.40" y="366.34" font-size="8.2" fill="#1e1e1e" textLength="29.30" lengthAdjust="spacingAndGlyphs" stroke="#1e1e1e" stroke-width="0.16">Закрыта</text>
<text x="365.10" y="366.34" font-size="8.2" fill="#1e1e1e" text-anchor="end" textLength="20.15" lengthAdjust="spacingAndGlyphs" stroke="#1e1e1e" stroke-width="0.16">59348</text>
<text x="401.80" y="366.34" font-size="8.2" fill="#1e1e1e" text-anchor="end" textLength="8.06" lengthAdjust="spacingAndGlyphs" stroke="#1e1e1e" stroke-width="0.16">58</text>
<text x="445.80" y="366.34" font-size="8.2" fill="#1e1e1e" text-anchor="end" textLength="34.41" lengthAdjust="spacingAndGlyphs" stroke="#1e1e1e" stroke-width="0.16">1/30/2018</text>
<text x="500.00" y="366.34" font-size="8.2" fill="#1e1e1e" text-anchor="end" textLength="38.44" lengthAdjust="spacingAndGlyphs" stroke="#1e1e1e" stroke-width="0.16">12/29/2017</text>
<text x="543.30" y="366.34" font-size="8.2" fill="#1e1e1e" text-anchor="end" textLength="38.44" lengthAdjust="spacingAndGlyphs" stroke="#1e1e1e" stroke-width="0.16">10/23/2013</text>
<text x="290.80" y="377.78" font-size="8.2" fill="#1e1e1e" text-anchor="end" textLength="20.70" lengthAdjust="spacingAndGlyphs" stroke="#1e1e1e" stroke-width="0.16">нский</text>
<text x="295.40" y="377.78" font-size="8.2" fill="#1e1e1e" textLength="29.30" lengthAdjust="spacingAndGlyphs" stroke="#1e1e1e" stroke-width="0.16">Закрыта</text>
<text x="365.10" y="377.78" font-size="8.2" fill="#1e1e1e" text-anchor="end" textLength="20.15" lengthAdjust="spacingAndGlyphs" stroke="#1e1e1e" stroke-width="0.16">67343</text>
<text x="401.80" y="377.78" font-size="8.2" fill="#1e1e1e" text-anchor="end" textLength="8.06" lengthAdjust="spacingAndGlyphs" stroke="#1e1e1e" stroke-width="0.16">62</text>
<text x="445.80" y="377.78" font-size="8.2" fill="#1e1e1e" text-anchor="end" textLength="34.41" lengthAdjust="spacingAndGlyphs" stroke="#1e1e1e" stroke-width="0.16">10/2/2017</text>
<text x="500.00" y="377.78" font-size="8.2" fill="#1e1e1e" text-anchor="end" textLength="30.38" lengthAdjust="spacingAndGlyphs" stroke="#1e1e1e" stroke-width="0.16">2/7/2017</text>
<text x="543.30" y="377.78" font-size="8.2" fill="#1e1e1e" text-anchor="end" textLength="30.38" lengthAdjust="spacingAndGlyphs" stroke="#1e1e1e" stroke-width="0.16">8/4/2012</text>
<text x="290.80" y="389.21" font-size="8.2" fill="#1e1e1e" text-anchor="end" textLength="20.70" lengthAdjust="spacingAndGlyphs" stroke="#1e1e1e" stroke-width="0.16">нский</text>
<text x="295.40" y="389.21" font-size="8.2" fill="#1e1e1e" textLength="29.30" lengthAdjust="spacingAndGlyphs" stroke="#1e1e1e" stroke-width="0.16">Закрыта</text>
<text x="365.10" y="389.21" font-size="8.2" fill="#1e1e1e" text-anchor="end" textLength="20.15" lengthAdjust="spacingAndGlyphs" stroke="#1e1e1e" stroke-width="0.16">21404</text>
<text x="401.80" y="389.21" font-size="8.2" fill="#1e1e1e" text-anchor="end" textLength="8.06" lengthAdjust="spacingAndGlyphs" stroke="#1e1e1e" stroke-width="0.16">21</text>
<text x="445.80" y="389.21" font-size="8.2" fill="#1e1e1e" text-anchor="end" textLength="38.44" lengthAdjust="spacingAndGlyphs" stroke="#1e1e1e" stroke-width="0.16">10/14/2017</text>
<text x="500.00" y="389.21" font-size="8.2" fill="#1e1e1e" text-anchor="end" textLength="34.41" lengthAdjust="spacingAndGlyphs" stroke="#1e1e1e" stroke-width="0.16">12/8/2017</text>
<text x="543.30" y="389.21" font-size="8.2" fill="#1e1e1e" text-anchor="end" textLength="30.38" lengthAdjust="spacingAndGlyphs" stroke="#1e1e1e" stroke-width="0.16">6/7/2017</text>
<text x="290.80" y="400.64" font-size="8.2" fill="#1e1e1e" text-anchor="end" textLength="20.70" lengthAdjust="spacingAndGlyphs" stroke="#1e1e1e" stroke-width="0.16">нский</text>
<text x="295.40" y="400.64" font-size="8.2" fill="#1e1e1e" textLength="29.30" lengthAdjust="spacingAndGlyphs" stroke="#1e1e1e" stroke-width="0.16">Закрыта</text>
<text x="365.10" y="400.64" font-size="8.2" fill="#1e1e1e" text-anchor="end" textLength="20.15" lengthAdjust="spacingAndGlyphs" stroke="#1e1e1e" stroke-width="0.16">73725</text>
<text x="401.80" y="400.64" font-size="8.2" fill="#1e1e1e" text-anchor="end" textLength="8.06" lengthAdjust="spacingAndGlyphs" stroke="#1e1e1e" stroke-width="0.16">65</text>
<text x="445.80" y="400.64" font-size="8.2" fill="#1e1e1e" text-anchor="end" textLength="34.41" lengthAdjust="spacingAndGlyphs" stroke="#1e1e1e" stroke-width="0.16">8/11/2017</text>
<text x="500.00" y="400.64" font-size="8.2" fill="#1e1e1e" text-anchor="end" textLength="34.41" lengthAdjust="spacingAndGlyphs" stroke="#1e1e1e" stroke-width="0.16">2/17/2017</text>
<text x="543.30" y="400.64" font-size="8.2" fill="#1e1e1e" text-anchor="end" textLength="34.41" lengthAdjust="spacingAndGlyphs" stroke="#1e1e1e" stroke-width="0.16">8/13/2015</text>
<text x="290.80" y="412.07" font-size="8.2" fill="#1e1e1e" text-anchor="end" textLength="20.70" lengthAdjust="spacingAndGlyphs" stroke="#1e1e1e" stroke-width="0.16">нский</text>
<text x="295.40" y="412.07" font-size="8.2" fill="#1e1e1e" textLength="29.30" lengthAdjust="spacingAndGlyphs" stroke="#1e1e1e" stroke-width="0.16">Закрыта</text>
<text x="365.10" y="412.07" font-size="8.2" fill="#1e1e1e" text-anchor="end" textLength="20.15" lengthAdjust="spacingAndGlyphs" stroke="#1e1e1e" stroke-width="0.16">58429</text>
<text x="401.80" y="412.07" font-size="8.2" fill="#1e1e1e" text-anchor="end" textLength="8.06" lengthAdjust="spacingAndGlyphs" stroke="#1e1e1e" stroke-width="0.16">33</text>
<text x="445.80" y="412.07" font-size="8.2" fill="#1e1e1e" text-anchor="end" textLength="34.41" lengthAdjust="spacingAndGlyphs" stroke="#1e1e1e" stroke-width="0.16">9/26/2017</text>
<text x="500.00" y="412.07" font-size="8.2" fill="#1e1e1e" text-anchor="end" textLength="34.41" lengthAdjust="spacingAndGlyphs" stroke="#1e1e1e" stroke-width="0.16">7/31/2017</text>
<text x="543.30" y="412.07" font-size="8.2" fill="#1e1e1e" text-anchor="end" textLength="34.41" lengthAdjust="spacingAndGlyphs" stroke="#1e1e1e" stroke-width="0.16">2/22/2013</text>
<text x="290.80" y="423.51" font-size="8.2" fill="#1e1e1e" text-anchor="end" textLength="20.70" lengthAdjust="spacingAndGlyphs" stroke="#1e1e1e" stroke-width="0.16">нский</text>
<text x="295.40" y="423.51" font-size="8.2" fill="#1e1e1e" textLength="29.30" lengthAdjust="spacingAndGlyphs" stroke="#1e1e1e" stroke-width="0.16">Закрыта</text>
<text x="365.10" y="423.51" font-size="8.2" fill="#1e1e1e" text-anchor="end" textLength="20.15" lengthAdjust="spacingAndGlyphs" stroke="#1e1e1e" stroke-width="0.16">46814</text>
<text x="401.80" y="423.51" font-size="8.2" fill="#1e1e1e" text-anchor="end" textLength="8.06" lengthAdjust="spacingAndGlyphs" stroke="#1e1e1e" stroke-width="0.16">53</text>
<text x="445.80" y="423.51" font-size="8.2" fill="#1e1e1e" text-anchor="end" textLength="34.41" lengthAdjust="spacingAndGlyphs" stroke="#1e1e1e" stroke-width="0.16">7/11/2017</text>
<text x="500.00" y="423.51" font-size="8.2" fill="#1e1e1e" text-anchor="end" textLength="34.41" lengthAdjust="spacingAndGlyphs" stroke="#1e1e1e" stroke-width="0.16">7/19/2017</text>
<text x="543.30" y="423.51" font-size="8.2" fill="#1e1e1e" text-anchor="end" textLength="30.38" lengthAdjust="spacingAndGlyphs" stroke="#1e1e1e" stroke-width="0.16">2/9/2018</text>
<text x="290.80" y="434.94" font-size="8.2" fill="#1e1e1e" text-anchor="end" textLength="20.70" lengthAdjust="spacingAndGlyphs" stroke="#1e1e1e" stroke-width="0.16">нский</text>
<text x="295.40" y="434.94" font-size="8.2" fill="#1e1e1e" textLength="29.30" lengthAdjust="spacingAndGlyphs" stroke="#1e1e1e" stroke-width="0.16">Закрыта</text>
<text x="365.10" y="434.94" font-size="8.2" fill="#1e1e1e" text-anchor="end" textLength="20.15" lengthAdjust="spacingAndGlyphs" stroke="#1e1e1e" stroke-width="0.16">74342</text>
<text x="401.80" y="434.94" font-size="8.2" fill="#1e1e1e" text-anchor="end" textLength="8.06" lengthAdjust="spacingAndGlyphs" stroke="#1e1e1e" stroke-width="0.16">43</text>
<text x="445.80" y="434.94" font-size="8.2" fill="#1e1e1e" text-anchor="end" textLength="34.41" lengthAdjust="spacingAndGlyphs" stroke="#1e1e1e" stroke-width="0.16">9/23/2017</text>
<text x="500.00" y="434.94" font-size="8.2" fill="#1e1e1e" text-anchor="end" textLength="38.44" lengthAdjust="spacingAndGlyphs" stroke="#1e1e1e" stroke-width="0.16">12/23/2017</text>
<text x="543.30" y="434.94" font-size="8.2" fill="#1e1e1e" text-anchor="end" textLength="38.44" lengthAdjust="spacingAndGlyphs" stroke="#1e1e1e" stroke-width="0.16">10/22/2016</text>
<text x="290.80" y="446.37" font-size="8.2" fill="#1e1e1e" text-anchor="end" textLength="20.70" lengthAdjust="spacingAndGlyphs" stroke="#1e1e1e" stroke-width="0.16">нский</text>
<text x="295.40" y="446.37" font-size="8.2" fill="#1e1e1e" textLength="29.30" lengthAdjust="spacingAndGlyphs" stroke="#1e1e1e" stroke-width="0.16">Закрыта</text>
<text x="365.10" y="446.37" font-size="8.2" fill="#1e1e1e" text-anchor="end" textLength="20.15" lengthAdjust="spacingAndGlyphs" stroke="#1e1e1e" stroke-width="0.16">26749</text>
<text x="401.80" y="446.37" font-size="8.2" fill="#1e1e1e" text-anchor="end" textLength="8.06" lengthAdjust="spacingAndGlyphs" stroke="#1e1e1e" stroke-width="0.16">53</text>
<text x="445.80" y="446.37" font-size="8.2" fill="#1e1e1e" text-anchor="end" textLength="34.41" lengthAdjust="spacingAndGlyphs" stroke="#1e1e1e" stroke-width="0.16">2/17/2018</text>
<text x="500.00" y="446.37" font-size="8.2" fill="#1e1e1e" text-anchor="end" textLength="38.44" lengthAdjust="spacingAndGlyphs" stroke="#1e1e1e" stroke-width="0.16">11/24/2017</text>
<text x="543.30" y="446.37" font-size="8.2" fill="#1e1e1e" text-anchor="end" textLength="34.41" lengthAdjust="spacingAndGlyphs" stroke="#1e1e1e" stroke-width="0.16">11/8/2015</text>
<text x="290.80" y="457.81" font-size="8.2" fill="#1e1e1e" text-anchor="end" textLength="20.70" lengthAdjust="spacingAndGlyphs" stroke="#1e1e1e" stroke-width="0.16">нский</text>
<text x="295.40" y="457.81" font-size="8.2" fill="#1e1e1e" textLength="29.30" lengthAdjust="spacingAndGlyphs" stroke="#1e1e1e" stroke-width="0.16">Закрыта</text>
<text x="365.10" y="457.81" font-size="8.2" fill="#1e1e1e" text-anchor="end" textLength="20.15" lengthAdjust="spacingAndGlyphs" stroke="#1e1e1e" stroke-width="0.16">41348</text>
<text x="401.80" y="457.81" font-size="8.2" fill="#1e1e1e" text-anchor="end" textLength="8.06" lengthAdjust="spacingAndGlyphs" stroke="#1e1e1e" stroke-width="0.16">32</text>
<text x="445.80" y="457.81" font-size="8.2" fill="#1e1e1e" text-anchor="end" textLength="30.38" lengthAdjust="spacingAndGlyphs" stroke="#1e1e1e" stroke-width="0.16">3/3/2018</text>
<text x="500.00" y="457.81" font-size="8.2" fill="#1e1e1e" text-anchor="end" textLength="38.44" lengthAdjust="spacingAndGlyphs" stroke="#1e1e1e" stroke-width="0.16">12/20/2017</text>
<text x="543.30" y="457.81" font-size="8.2" fill="#1e1e1e" text-anchor="end" textLength="38.44" lengthAdjust="spacingAndGlyphs" stroke="#1e1e1e" stroke-width="0.16">12/23/2012</text>
<text x="290.80" y="469.24" font-size="8.2" fill="#1e1e1e" text-anchor="end" textLength="20.70" lengthAdjust="spacingAndGlyphs" stroke="#1e1e1e" stroke-width="0.16">нский</text>
<text x="295.40" y="469.24" font-size="8.2" fill="#1e1e1e" textLength="29.30" lengthAdjust="spacingAndGlyphs" stroke="#1e1e1e" stroke-width="0.16">Закрыта</text>
<text x="365.10" y="469.24" font-size="8.2" fill="#1e1e1e" text-anchor="end" textLength="20.15" lengthAdjust="spacingAndGlyphs" stroke="#1e1e1e" stroke-width="0.16">51496</text>
<text x="401.80" y="469.24" font-size="8.2" fill="#1e1e1e" text-anchor="end" textLength="8.06" lengthAdjust="spacingAndGlyphs" stroke="#1e1e1e" stroke-width="0.16">29</text>
<text x="445.80" y="469.24" font-size="8.2" fill="#1e1e1e" text-anchor="end" textLength="34.41" lengthAdjust="spacingAndGlyphs" stroke="#1e1e1e" stroke-width="0.16">2/21/2018</text>
<text x="500.00" y="469.24" font-size="8.2" fill="#1e1e1e" text-anchor="end" textLength="34.41" lengthAdjust="spacingAndGlyphs" stroke="#1e1e1e" stroke-width="0.16">6/23/2017</text>
<text x="543.30" y="469.24" font-size="8.2" fill="#1e1e1e" text-anchor="end" textLength="34.41" lengthAdjust="spacingAndGlyphs" stroke="#1e1e1e" stroke-width="0.16">4/20/2016</text>
<text x="290.80" y="480.67" font-size="8.2" fill="#1e1e1e" text-anchor="end" textLength="20.70" lengthAdjust="spacingAndGlyphs" stroke="#1e1e1e" stroke-width="0.16">нский</text>
<text x="295.40" y="480.67" font-size="8.2" fill="#1e1e1e" textLength="29.30" lengthAdjust="spacingAndGlyphs" stroke="#1e1e1e" stroke-width="0.16">Закрыта</text>
<text x="365.10" y="480.67" font-size="8.2" fill="#1e1e1e" text-anchor="end" textLength="20.15" lengthAdjust="spacingAndGlyphs" stroke="#1e1e1e" stroke-width="0.16">42293</text>
<text x="401.80" y="480.67" font-size="8.2" fill="#1e1e1e" text-anchor="end" textLength="8.06" lengthAdjust="spacingAndGlyphs" stroke="#1e1e1e" stroke-width="0.16">39</text>
<text x="445.80" y="480.67" font-size="8.2" fill="#1e1e1e" text-anchor="end" textLength="30.38" lengthAdjust="spacingAndGlyphs" stroke="#1e1e1e" stroke-width="0.16">8/7/2017</text>
<text x="500.00" y="480.67" font-size="8.2" fill="#1e1e1e" text-anchor="end" textLength="30.38" lengthAdjust="spacingAndGlyphs" stroke="#1e1e1e" stroke-width="0.16">9/1/2017</text>
<text x="543.30" y="480.67" font-size="8.2" fill="#1e1e1e" text-anchor="end" textLength="34.41" lengthAdjust="spacingAndGlyphs" stroke="#1e1e1e" stroke-width="0.16">4/15/2016</text>
<text x="290.80" y="492.11" font-size="8.2" fill="#1e1e1e" text-anchor="end" textLength="20.70" lengthAdjust="spacingAndGlyphs" stroke="#1e1e1e" stroke-width="0.16">нский</text>
<text x="295.40" y="492.11" font-size="8.2" fill="#1e1e1e" textLength="29.30" lengthAdjust="spacingAndGlyphs" stroke="#1e1e1e" stroke-width="0.16">Закрыта</text>
<text x="365.10" y="492.11" font-size="8.2" fill="#1e1e1e" text-anchor="end" textLength="20.15" lengthAdjust="spacingAndGlyphs" stroke="#1e1e1e" stroke-width="0.16">61053</text>
<text x="401.80" y="492.11" font-size="8.2" fill="#1e1e1e" text-anchor="end" textLength="8.06" lengthAdjust="spacingAndGlyphs" stroke="#1e1e1e" stroke-width="0.16">54</text>
<text x="445.80" y="492.11" font-size="8.2" fill="#1e1e1e" text-anchor="end" textLength="34.41" lengthAdjust="spacingAndGlyphs" stroke="#1e1e1e" stroke-width="0.16">1/14/2017</text>
<text x="500.00" y="492.11" font-size="8.2" fill="#1e1e1e" text-anchor="end" textLength="30.38" lengthAdjust="spacingAndGlyphs" stroke="#1e1e1e" stroke-width="0.16">2/4/2018</text>
<text x="543.30" y="492.11" font-size="8.2" fill="#1e1e1e" text-anchor="end" textLength="30.38" lengthAdjust="spacingAndGlyphs" stroke="#1e1e1e" stroke-width="0.16">8/3/2016</text>
<text x="290.80" y="503.54" font-size="8.2" fill="#1e1e1e" text-anchor="end" textLength="20.70" lengthAdjust="spacingAndGlyphs" stroke="#1e1e1e" stroke-width="0.16">нский</text>
<text x="295.40" y="503.54" font-size="8.2" fill="#1e1e1e" textLength="29.30" lengthAdjust="spacingAndGlyphs" stroke="#1e1e1e" stroke-width="0.16">Закрыта</text>
<text x="365.10" y="503.54" font-size="8.2" fill="#1e1e1e" text-anchor="end" textLength="20.15" lengthAdjust="spacingAndGlyphs" stroke="#1e1e1e" stroke-width="0.16">57262</text>
<text x="401.80" y="503.54" font-size="8.2" fill="#1e1e1e" text-anchor="end" textLength="8.06" lengthAdjust="spacingAndGlyphs" stroke="#1e1e1e" stroke-width="0.16">27</text>
<text x="445.80" y="503.54" font-size="8.2" fill="#1e1e1e" text-anchor="end" textLength="30.38" lengthAdjust="spacingAndGlyphs" stroke="#1e1e1e" stroke-width="0.16">6/9/2017</text>
<text x="500.00" y="503.54" font-size="8.2" fill="#1e1e1e" text-anchor="end" textLength="34.41" lengthAdjust="spacingAndGlyphs" stroke="#1e1e1e" stroke-width="0.16">4/19/2018</text>
<text x="543.30" y="503.54" font-size="8.2" fill="#1e1e1e" text-anchor="end" textLength="34.41" lengthAdjust="spacingAndGlyphs" stroke="#1e1e1e" stroke-width="0.16">9/29/2013</text>
<text x="290.80" y="514.97" font-size="8.2" fill="#1e1e1e" text-anchor="end" textLength="20.70" lengthAdjust="spacingAndGlyphs" stroke="#1e1e1e" stroke-width="0.16">нский</text>
<text x="295.40" y="514.97" font-size="8.2" fill="#1e1e1e" textLength="29.30" lengthAdjust="spacingAndGlyphs" stroke="#1e1e1e" stroke-width="0.16">Закрыта</text>
<text x="365.10" y="514.97" font-size="8.2" fill="#1e1e1e" text-anchor="end" textLength="20.15" lengthAdjust="spacingAndGlyphs" stroke="#1e1e1e" stroke-width="0.16">68863</text>
<text x="401.80" y="514.97" font-size="8.2" fill="#1e1e1e" text-anchor="end" textLength="8.06" lengthAdjust="spacingAndGlyphs" stroke="#1e1e1e" stroke-width="0.16">30</text>
<text x="445.80" y="514.97" font-size="8.2" fill="#1e1e1e" text-anchor="end" textLength="34.41" lengthAdjust="spacingAndGlyphs" stroke="#1e1e1e" stroke-width="0.16">4/21/2018</text>
<text x="500.00" y="514.97" font-size="8.2" fill="#1e1e1e" text-anchor="end" textLength="34.41" lengthAdjust="spacingAndGlyphs" stroke="#1e1e1e" stroke-width="0.16">2/28/2017</text>
<text x="543.30" y="514.97" font-size="8.2" fill="#1e1e1e" text-anchor="end" textLength="30.38" lengthAdjust="spacingAndGlyphs" stroke="#1e1e1e" stroke-width="0.16">7/7/2016</text>
<text x="290.80" y="526.40" font-size="8.2" fill="#1e1e1e" text-anchor="end" textLength="20.70" lengthAdjust="spacingAndGlyphs" stroke="#1e1e1e" stroke-width="0.16">нский</text>
<text x="295.40" y="526.40" font-size="8.2" fill="#1e1e1e" textLength="29.30" lengthAdjust="spacingAndGlyphs" stroke="#1e1e1e" stroke-width="0.16">Закрыта</text>
<text x="365.10" y="526.40" font-size="8.2" fill="#1e1e1e" text-anchor="end" textLength="20.15" lengthAdjust="spacingAndGlyphs" stroke="#1e1e1e" stroke-width="0.16">50608</text>
<text x="401.80" y="526.40" font-size="8.2" fill="#1e1e1e" text-anchor="end" textLength="8.06" lengthAdjust="spacingAndGlyphs" stroke="#1e1e1e" stroke-width="0.16">55</text>
<text x="445.80" y="526.40" font-size="8.2" fill="#1e1e1e" text-anchor="end" textLength="34.41" lengthAdjust="spacingAndGlyphs" stroke="#1e1e1e" stroke-width="0.16">6/20/2017</text>
<text x="500.00" y="526.40" font-size="8.2" fill="#1e1e1e" text-anchor="end" textLength="30.38" lengthAdjust="spacingAndGlyphs" stroke="#1e1e1e" stroke-width="0.16">2/3/2017</text>
<text x="543.30" y="526.40" font-size="8.2" fill="#1e1e1e" text-anchor="end" textLength="38.44" lengthAdjust="spacingAndGlyphs" stroke="#1e1e1e" stroke-width="0.16">11/12/2013</text>
<text x="290.80" y="537.84" font-size="8.2" fill="#1e1e1e" text-anchor="end" textLength="20.70" lengthAdjust="spacingAndGlyphs" stroke="#1e1e1e" stroke-width="0.16">нский</text>
<text x="295.40" y="537.84" font-size="8.2" fill="#1e1e1e" textLength="29.30" lengthAdjust="spacingAndGlyphs" stroke="#1e1e1e" stroke-width="0.16">Закрыта</text>
<text x="365.10" y="537.84" font-size="8.2" fill="#1e1e1e" text-anchor="end" textLength="20.15" lengthAdjust="spacingAndGlyphs" stroke="#1e1e1e" stroke-width="0.16">66419</text>
<text x="401.80" y="537.84" font-size="8.2" fill="#1e1e1e" text-anchor="end" textLength="8.06" lengthAdjust="spacingAndGlyphs" stroke="#1e1e1e" stroke-width="0.16">44</text>
<text x="445.80" y="537.84" font-size="8.2" fill="#1e1e1e" text-anchor="end" textLength="30.38" lengthAdjust="spacingAndGlyphs" stroke="#1e1e1e" stroke-width="0.16">1/9/2018</text>
<text x="500.00" y="537.84" font-size="8.2" fill="#1e1e1e" text-anchor="end" textLength="34.41" lengthAdjust="spacingAndGlyphs" stroke="#1e1e1e" stroke-width="0.16">8/16/2017</text>
<text x="543.30" y="537.84" font-size="8.2" fill="#1e1e1e" text-anchor="end" textLength="34.41" lengthAdjust="spacingAndGlyphs" stroke="#1e1e1e" stroke-width="0.16">6/15/2014</text>
</g>
<rect x="269.5" y="531.6" width="284" height="2.6" fill="#000" opacity="0.22" filter="url(#sh2)"/>
<rect x="269.50" y="534.20" width="290.00" height="8.00" fill="#ffffff"/>
<polygon points="550,308.7 600.2,308.7 581.7,290 594.2,290 617.8,313.35 594.2,336.7 581.7,336.7 600.2,318 550,318" fill="#1162b3"/>
<!-- dashboard -->
<rect x="625.0" y="110.0" width="468.0" height="398.5" fill="#000" opacity="0.45" filter="url(#sh2)"/>
<g clip-path="url(#cdash)">
<rect x="625.00" y="108.50" width="458.00" height="398.50" fill="#ffffff"/>
<g filter="url(#bl2)">
<text x="902.00" y="125.60" font-size="13.0" fill="#1c1c1c">Дашборд специалиста по кадрам</text>
</g>
<g filter="url(#bl1)">
<text x="636.60" y="139.90" font-size="8.3" fill="#777">Персонал</text>
</g>
<text x="673.60" y="139.90" font-size="8.1" fill="#3c3c3c">по полу</text>
<g filter="url(#bl1)">
<text x="773.40" y="139.90" font-size="8.3" fill="#777">Персонал</text>
</g>
<text x="809.60" y="139.90" font-size="8.1" fill="#3c3c3c">по возрасту</text>
<g filter="url(#bl1)">
<text x="632.00" y="209.70" font-size="8.3" fill="#777">Персонал</text>
</g>
<text x="668.40" y="209.70" font-size="8.1" fill="#3c3c3c">по подразделениям</text>
<g filter="url(#bl1)">
<text x="632.00" y="322.00" font-size="8.3" fill="#777">Персонал</text>
</g>
<text x="669.60" y="322.00" font-size="8.1" fill="#3c3c3c">по категориям</text>
<g filter="url(#bl1)">
<text x="632.00" y="411.30" font-size="8.3" fill="#777">Персонал</text>
</g>
<text x="669.60" y="411.30" font-size="8.1" fill="#3c3c3c">по Должностям</text>
<text x="632.40" y="163.90" font-size="12.5" fill="#1a1a1a" stroke="#1a1a1a" stroke-width="0.25" textLength="13.20" lengthAdjust="spacingAndGlyphs">23</text>
<text x="632.40" y="189.40" font-size="12.5" fill="#1a1a1a" stroke="#1a1a1a" stroke-width="0.25" textLength="13.20" lengthAdjust="spacingAndGlyphs">63</text>
<g fill="#e2575d"><circle cx="684.4" cy="150.6" r="1.4"/><path d="M683.0,153.0 h2.8 l1.6,10.2 h-6.0 z"/><path d="M683.0,153.0 l-3.4,6.9 l0.9,0.5 l3.3,-6.3 z M685.8,153.0 l3.4,6.9 l-0.9,0.5 l-3.3,-6.3 z"/><rect x="682.75" y="163.0" width="1.25" height="6.3"/><rect x="684.75" y="163.0" width="1.25" height="6.3"/></g>
<g fill="#3b6ea8"><circle cx="684.4" cy="175.5" r="1.45"/><path d="M680.6,177.9 h7.6 q0.8,0 0.8,0.8 v7.0 q0,0.6 -0.7,0.6 q-0.7,0 -0.7,-0.6 v-5.6 h-0.5 v6.0 h-5.4 v-6.0 h-0.5 v5.6 q0,0.6 -0.7,0.6 q-0.7,0 -0.7,-0.6 v-7.0 q0,-0.8 0.8,-0.8 z"/><rect x="681.8" y="185.6" width="2.1" height="8.9" rx="0.5"/><rect x="684.9" y="185.6" width="2.1" height="8.9" rx="0.5"/></g>
<circle cx="740.0" cy="163.4" r="19.4" fill="#4c79ae"/>
<path d="M740.0,163.4 L740.0,144.0 A19.4,19.4 0 0 1 759.25,165.83 Z" fill="#e25d63" stroke="#d9434b" stroke-width="0.6"/>
<circle cx="740.0" cy="163.4" r="19.099999999999998" fill="none" stroke="#41699a" stroke-width="0.6" opacity="0.6"/>
<text x="755.60" y="148.60" font-size="4.6" fill="#222">27%</text>
<text x="715.60" y="182.40" font-size="4.6" fill="#222">73%</text>
<line x1="771.60" y1="149.60" x2="883.00" y2="149.60" stroke="#ededed" stroke-width="0.5"/>
<line x1="771.60" y1="162.60" x2="883.00" y2="162.60" stroke="#ededed" stroke-width="0.5"/>
<line x1="771.60" y1="175.50" x2="883.00" y2="175.50" stroke="#ededed" stroke-width="0.5"/>
<line x1="771.60" y1="149.00" x2="771.60" y2="188.60" stroke="#e2e2e2" stroke-width="0.5"/>
<line x1="771.60" y1="188.60" x2="883.00" y2="188.60" stroke="#dcdcdc" stroke-width="0.6"/>
<rect x="775.60" y="168.98" width="13.20" height="19.42" fill="#6b9dcb" stroke="#5486bb" stroke-width="0.6"/>
<text x="782.20" y="166.98" font-size="4.6" fill="#222" text-anchor="middle">15</text>
<text x="782.20" y="195.60" font-size="4.6" fill="#777" text-anchor="middle">20</text>
<rect x="798.22" y="156.03" width="13.20" height="32.38" fill="#6b9dcb" stroke="#5486bb" stroke-width="0.6"/>
<text x="804.82" y="154.03" font-size="4.6" fill="#222" text-anchor="middle">25</text>
<text x="804.82" y="195.60" font-size="4.6" fill="#777" text-anchor="middle">30</text>
<rect x="820.84" y="167.68" width="13.20" height="20.72" fill="#6b9dcb" stroke="#5486bb" stroke-width="0.6"/>
<text x="827.44" y="165.68" font-size="4.6" fill="#222" text-anchor="middle">16</text>
<text x="827.44" y="195.60" font-size="4.6" fill="#777" text-anchor="middle">40</text>
<rect x="843.46" y="168.98" width="13.20" height="19.42" fill="#6b9dcb" stroke="#5486bb" stroke-width="0.6"/>
<text x="850.06" y="166.98" font-size="4.6" fill="#222" text-anchor="middle">15</text>
<text x="850.06" y="195.60" font-size="4.6" fill="#777" text-anchor="middle">50</text>
<rect x="866.08" y="168.98" width="13.20" height="19.42" fill="#6b9dcb" stroke="#5486bb" stroke-width="0.6"/>
<text x="872.68" y="166.98" font-size="4.6" fill="#222" text-anchor="middle">15</text>
<text x="872.68" y="195.60" font-size="4.6" fill="#777" text-anchor="middle">60</text>
<text x="912.40" y="140.00" font-size="7.9" fill="#555" text-anchor="middle">Кол-во</text>
<text x="981.20" y="140.00" font-size="7.8" fill="#555" text-anchor="middle">Средняя</text>
<g filter="url(#bl1)">
<text x="912.40" y="151.00" font-size="8.0" fill="#777" text-anchor="middle">персонала</text>
<text x="982.20" y="151.00" font-size="8.0" fill="#777" text-anchor="middle">зарплата</text>
</g>
<text x="912.40" y="170.00" font-size="12.5" fill="#1a1a1a" text-anchor="middle" stroke="#1a1a1a" stroke-width="0.5" textLength="13.30" lengthAdjust="spacingAndGlyphs">86</text>
<text x="981.60" y="170.00" font-size="12.5" fill="#1a1a1a" text-anchor="middle" stroke="#1a1a1a" stroke-width="0.5" textLength="60.90" lengthAdjust="spacingAndGlyphs">47,652 руб.</text>
<text x="1027.80" y="140.00" font-size="7.8" fill="#444">Распределение</text>
<line x1="1028.50" y1="149.60" x2="1083.00" y2="149.60" stroke="#ededed" stroke-width="0.5"/>
<line x1="1028.50" y1="162.60" x2="1083.00" y2="162.60" stroke="#ededed" stroke-width="0.5"/>
<line x1="1028.50" y1="175.50" x2="1083.00" y2="175.50" stroke="#ededed" stroke-width="0.5"/>
<line x1="1028.50" y1="149.00" x2="1028.50" y2="188.60" stroke="#e2e2e2" stroke-width="0.5"/>
<line x1="1028.50" y1="188.60" x2="1083.00" y2="188.60" stroke="#dcdcdc" stroke-width="0.6"/>
<rect x="1033.40" y="156.00" width="13.90" height="32.40" fill="#6b9dcb" stroke="#5486bb" stroke-width="0.6"/>
<text x="1040.40" y="154.00" font-size="4.6" fill="#222" text-anchor="middle">18</text>
<text x="1040.40" y="195.60" font-size="4.4" fill="#777" text-anchor="middle">20,000 руб.</text>
<rect x="1062.40" y="163.20" width="13.90" height="25.20" fill="#6b9dcb" stroke="#5486bb" stroke-width="0.6"/>
<text x="1069.40" y="161.20" font-size="4.6" fill="#222" text-anchor="middle">14</text>
<text x="1069.40" y="195.60" font-size="4.4" fill="#777" text-anchor="middle">30,000 руб.</text>
<line x1="708.15" y1="215.00" x2="708.15" y2="309.00" stroke="#eeeeee" stroke-width="0.6"/>
<line x1="724.60" y1="215.00" x2="724.60" y2="309.00" stroke="#eeeeee" stroke-width="0.6"/>
<line x1="741.05" y1="215.00" x2="741.05" y2="309.00" stroke="#eeeeee" stroke-width="0.6"/>
<line x1="757.50" y1="215.00" x2="757.50" y2="309.00" stroke="#eeeeee" stroke-width="0.6"/>
<line x1="773.95" y1="215.00" x2="773.95" y2="309.00" stroke="#eeeeee" stroke-width="0.6"/>
<line x1="790.40" y1="215.00" x2="790.40" y2="309.00" stroke="#eeeeee" stroke-width="0.6"/>
<line x1="806.85" y1="215.00" x2="806.85" y2="309.00" stroke="#eeeeee" stroke-width="0.6"/>
<line x1="823.30" y1="215.00" x2="823.30" y2="309.00" stroke="#eeeeee" stroke-width="0.6"/>
<line x1="839.75" y1="215.00" x2="839.75" y2="309.00" stroke="#eeeeee" stroke-width="0.6"/>
<line x1="856.20" y1="215.00" x2="856.20" y2="309.00" stroke="#eeeeee" stroke-width="0.6"/>
<line x1="872.65" y1="215.00" x2="872.65" y2="309.00" stroke="#eeeeee" stroke-width="0.6"/>
<line x1="889.10" y1="215.00" x2="889.10" y2="309.00" stroke="#eeeeee" stroke-width="0.6"/>
<line x1="905.55" y1="215.00" x2="905.55" y2="309.00" stroke="#eeeeee" stroke-width="0.6"/>
<line x1="922.00" y1="215.00" x2="922.00" y2="309.00" stroke="#eeeeee" stroke-width="0.6"/>
<rect x="692.05" y="218.75" width="114.10" height="9.80" fill="#5aa552" stroke="#3a8a37" stroke-width="0.8"/>
<text x="808.50" y="225.55" font-size="4.8" fill="#222" stroke="#222" stroke-width="0.22">14</text>
<text x="689.00" y="225.25" font-size="4.7" fill="#777" text-anchor="end">Администрация</text>
<rect x="692.05" y="234.20" width="39.91" height="9.80" fill="#5aa552" stroke="#3a8a37" stroke-width="0.8"/>
<text x="734.32" y="241.00" font-size="4.8" fill="#222" stroke="#222" stroke-width="0.22">5</text>
<text x="689.00" y="240.70" font-size="4.7" fill="#777" text-anchor="end">Склад</text>
<rect x="692.05" y="249.65" width="64.64" height="9.80" fill="#5aa552" stroke="#3a8a37" stroke-width="0.8"/>
<text x="759.04" y="256.45" font-size="4.8" fill="#222" stroke="#222" stroke-width="0.22">8</text>
<text x="689.00" y="253.25" font-size="4.7" fill="#777" text-anchor="end">Служба главного</text>
<text x="689.00" y="259.15" font-size="4.7" fill="#777" text-anchor="end">инженера</text>
<rect x="692.05" y="265.10" width="97.62" height="9.80" fill="#5aa552" stroke="#3a8a37" stroke-width="0.8"/>
<text x="792.02" y="271.90" font-size="4.8" fill="#222" stroke="#222" stroke-width="0.22">12</text>
<text x="689.00" y="268.70" font-size="4.7" fill="#777" text-anchor="end">Служба главного</text>
<text x="689.00" y="274.60" font-size="4.7" fill="#777" text-anchor="end">энергетика</text>
<rect x="692.05" y="280.55" width="213.02" height="9.80" fill="#5aa552" stroke="#3a8a37" stroke-width="0.8"/>
<text x="907.42" y="287.35" font-size="4.8" fill="#222" stroke="#222" stroke-width="0.22">26</text>
<text x="689.00" y="287.05" font-size="4.7" fill="#777" text-anchor="end">Цех 1</text>
<rect x="692.05" y="296.00" width="171.80" height="9.80" fill="#5aa552" stroke="#3a8a37" stroke-width="0.8"/>
<text x="866.20" y="302.80" font-size="4.8" fill="#222" stroke="#222" stroke-width="0.22">21</text>
<text x="689.00" y="302.50" font-size="4.7" fill="#777" text-anchor="end">Цех 2</text>
<line x1="715.50" y1="328.00" x2="715.50" y2="399.00" stroke="#eeeeee" stroke-width="0.6"/>
<line x1="739.30" y1="328.00" x2="739.30" y2="399.00" stroke="#eeeeee" stroke-width="0.6"/>
<line x1="763.10" y1="328.00" x2="763.10" y2="399.00" stroke="#eeeeee" stroke-width="0.6"/>
<line x1="786.90" y1="328.00" x2="786.90" y2="399.00" stroke="#eeeeee" stroke-width="0.6"/>
<line x1="810.70" y1="328.00" x2="810.70" y2="399.00" stroke="#eeeeee" stroke-width="0.6"/>
<line x1="834.50" y1="328.00" x2="834.50" y2="399.00" stroke="#eeeeee" stroke-width="0.6"/>
<line x1="858.30" y1="328.00" x2="858.30" y2="399.00" stroke="#eeeeee" stroke-width="0.6"/>
<line x1="882.10" y1="328.00" x2="882.10" y2="399.00" stroke="#eeeeee" stroke-width="0.6"/>
<line x1="905.90" y1="328.00" x2="905.90" y2="399.00" stroke="#eeeeee" stroke-width="0.6"/>
<rect x="692.05" y="331.55" width="98.91" height="11.80" fill="#5aa552" stroke="#3a8a37" stroke-width="0.8"/>
<text x="793.31" y="339.35" font-size="4.8" fill="#222" stroke="#222" stroke-width="0.22">21</text>
<text x="689.00" y="339.05" font-size="4.7" fill="#777" text-anchor="end">ИТР</text>
<rect x="692.05" y="349.10" width="213.44" height="11.80" fill="#5aa552" stroke="#3a8a37" stroke-width="0.8"/>
<text x="907.84" y="356.90" font-size="4.8" fill="#222" stroke="#222" stroke-width="0.22">45</text>
<text x="689.00" y="356.60" font-size="4.7" fill="#777" text-anchor="end">Рабочие</text>
<rect x="692.05" y="366.65" width="51.19" height="11.80" fill="#5aa552" stroke="#3a8a37" stroke-width="0.8"/>
<text x="745.59" y="374.45" font-size="4.8" fill="#222" stroke="#222" stroke-width="0.22">11</text>
<text x="689.00" y="374.15" font-size="4.7" fill="#777" text-anchor="end">Руководители</text>
<rect x="692.05" y="384.20" width="41.65" height="11.80" fill="#5aa552" stroke="#3a8a37" stroke-width="0.8"/>
<text x="736.05" y="392.00" font-size="4.8" fill="#222" stroke="#222" stroke-width="0.22">9</text>
<text x="689.00" y="391.70" font-size="4.7" fill="#777" text-anchor="end">Специалисты</text>
<line x1="720.70" y1="418.00" x2="720.70" y2="507.00" stroke="#eeeeee" stroke-width="0.6"/>
<line x1="749.70" y1="418.00" x2="749.70" y2="507.00" stroke="#eeeeee" stroke-width="0.6"/>
<line x1="778.70" y1="418.00" x2="778.70" y2="507.00" stroke="#eeeeee" stroke-width="0.6"/>
<line x1="807.70" y1="418.00" x2="807.70" y2="507.00" stroke="#eeeeee" stroke-width="0.6"/>
<line x1="836.70" y1="418.00" x2="836.70" y2="507.00" stroke="#eeeeee" stroke-width="0.6"/>
<line x1="865.70" y1="418.00" x2="865.70" y2="507.00" stroke="#eeeeee" stroke-width="0.6"/>
<line x1="894.70" y1="418.00" x2="894.70" y2="507.00" stroke="#eeeeee" stroke-width="0.6"/>
<rect x="692.05" y="420.75" width="13.25" height="9.80" fill="#5aa552" stroke="#3a8a37" stroke-width="0.8"/>
<text x="707.65" y="427.55" font-size="4.8" fill="#222" stroke="#222" stroke-width="0.22">1</text>
<text x="689.00" y="424.35" font-size="4.7" fill="#777" text-anchor="end">Специалист по</text>
<text x="689.00" y="430.25" font-size="4.7" fill="#777" text-anchor="end">планированию</text>
<rect x="692.05" y="435.30" width="27.80" height="9.80" fill="#5aa552" stroke="#3a8a37" stroke-width="0.8"/>
<text x="722.20" y="442.10" font-size="4.8" fill="#222" stroke="#222" stroke-width="0.22">2</text>
<text x="689.00" y="441.80" font-size="4.7" fill="#777" text-anchor="end">Администратор</text>
<rect x="692.05" y="449.85" width="100.55" height="9.80" fill="#5aa552" stroke="#3a8a37" stroke-width="0.8"/>
<text x="794.95" y="456.65" font-size="4.8" fill="#222" stroke="#222" stroke-width="0.22">7</text>
<text x="689.00" y="456.35" font-size="4.7" fill="#777" text-anchor="end">Аппаратчик</text>
<rect x="692.05" y="464.40" width="13.25" height="9.80" fill="#5aa552" stroke="#3a8a37" stroke-width="0.8"/>
<text x="707.65" y="471.20" font-size="4.8" fill="#222" stroke="#222" stroke-width="0.22">1</text>
<text x="689.00" y="470.90" font-size="4.7" fill="#777" text-anchor="end">Бухгалтер</text>
<rect x="692.05" y="478.95" width="42.35" height="9.80" fill="#5aa552" stroke="#3a8a37" stroke-width="0.8"/>
<text x="736.75" y="485.75" font-size="4.8" fill="#222" stroke="#222" stroke-width="0.22">3</text>
<text x="689.00" y="485.45" font-size="4.7" fill="#777" text-anchor="end">Ведущий инженер</text>
<rect x="692.05" y="493.50" width="27.80" height="9.80" fill="#5aa552" stroke="#3a8a37" stroke-width="0.8"/>
<text x="722.20" y="500.30" font-size="4.8" fill="#222" stroke="#222" stroke-width="0.22">2</text>
<text x="689.00" y="497.10" font-size="4.7" fill="#777" text-anchor="end">Ведущий</text>
<text x="689.00" y="503.00" font-size="4.7" fill="#777" text-anchor="end">инженер-технолог</text>
<rect x="852.00" y="233.20" width="74.00" height="41.40" fill="#ffffff"/>
<text x="858.80" y="240.60" font-size="4.75" fill="#222" stroke="#222" stroke-width="0.15">Вакансия / Закрыта</text>
<circle cx="863.4" cy="247.10" r="2.1" fill="#fff" stroke="#777" stroke-width="0.5"/>
<circle cx="863.4" cy="247.10" r="0.95" fill="#333"/>
<text x="869.00" y="248.75" font-size="4.7" fill="#444">В штате</text>
<circle cx="863.4" cy="254.35" r="2.1" fill="#fff" stroke="#d0d0d0" stroke-width="0.5"/>
<text x="869.00" y="256.00" font-size="4.7" fill="#444">Вакансия</text>
<circle cx="863.4" cy="261.60" r="2.1" fill="#fff" stroke="#d0d0d0" stroke-width="0.5"/>
<text x="869.00" y="263.25" font-size="4.7" fill="#444">Уволен</text>
<rect x="924.60" y="418.90" width="5.30" height="85.20" fill="#f1f1f1"/>
<rect x="925.00" y="424.60" width="4.50" height="12.20" fill="#bdbdbd"/>
<path d="M925.6,422.6 l1.65,-1.9 l1.65,1.9 z M925.6,500.6 l1.65,1.9 l1.65,-1.9 z" fill="#444"/>
<g filter="url(#bl1)">
<text x="935.20" y="210.20" font-size="8.05" fill="#888">Список сотрудников с зарплатами</text>
<text x="936.00" y="221.00" font-size="6.2" fill="#555" font-weight="bold">Подразделение</text>
<text x="994.00" y="221.00" font-size="6.2" fill="#555" font-weight="bold">ФИО</text>
</g>
<line x1="934.00" y1="224.20" x2="1083.00" y2="224.20" stroke="#cfcfcf" stroke-width="0.7"/>
<clipPath id="cnm"><rect x="990" y="224" width="93" height="280"/></clipPath><g clip-path="url(#cnm)">
<text x="994.00" y="234.05" font-size="6.42" fill="#6e6e6e">Богоносцев Адам Феликсович</text>
<text x="994.00" y="249.32" font-size="6.42" fill="#6e6e6e">Воронцов Аким Федосиевич</text>
<text x="994.00" y="264.59" font-size="6.42" fill="#6e6e6e">Дурченко Валерий Наумович</text>
<text x="994.00" y="279.86" font-size="6.42" fill="#6e6e6e">Киприянова Пелагея Моисеевна</text>
<text x="994.00" y="295.13" font-size="6.42" fill="#6e6e6e">Ковалевский Вадим Прокофьевич</text>
<text x="994.00" y="310.40" font-size="6.42" fill="#6e6e6e">Ковшевников Лука Остапович</text>
<text x="994.00" y="325.67" font-size="6.42" fill="#6e6e6e">Кожухов Капитон Остапович</text>
<text x="994.00" y="340.94" font-size="6.42" fill="#6e6e6e">Мальчиков Фома Артемович</text>
<text x="994.00" y="356.21" font-size="6.42" fill="#6e6e6e">Хромченко Клавдий Денисович</text>
<text x="994.00" y="371.48" font-size="6.42" fill="#6e6e6e">Цехановецкий Емельян Никифорович</text>
<text x="994.00" y="386.75" font-size="6.42" fill="#6e6e6e">Чугунова Лада Никоновна</text>
<text x="994.00" y="402.02" font-size="6.42" fill="#6e6e6e">Энговатов Степан Ильевич</text>
<text x="994.00" y="417.29" font-size="6.42" fill="#6e6e6e">Энтский Борис Модестович</text>
<text x="994.00" y="432.56" font-size="6.42" fill="#6e6e6e">Ясаманова Ангелина Васильевна</text>
<text x="994.00" y="447.83" font-size="6.42" fill="#6e6e6e">Бабатьев Лукьян Якубович</text>
<text x="994.00" y="463.10" font-size="6.42" fill="#6e6e6e">Берлунов Карл Ипатович</text>
<text x="994.00" y="478.37" font-size="6.42" fill="#6e6e6e">Девятков Елисей Ульянович</text>
<text x="994.00" y="493.64" font-size="6.42" fill="#6e6e6e">Липов Аскольд Артемович</text>
<text x="994.00" y="505.55" font-size="6.42" fill="#6e6e6e">Семенов Станислав Казимирович</text>
</g>
<line x1="991.70" y1="239.60" x2="1083.00" y2="239.60" stroke="#dedede" stroke-width="0.6"/>
<line x1="991.70" y1="254.87" x2="1083.00" y2="254.87" stroke="#dedede" stroke-width="0.6"/>
<line x1="991.70" y1="270.14" x2="1083.00" y2="270.14" stroke="#dedede" stroke-width="0.6"/>
<line x1="991.70" y1="285.41" x2="1083.00" y2="285.41" stroke="#dedede" stroke-width="0.6"/>
<line x1="991.70" y1="300.68" x2="1083.00" y2="300.68" stroke="#dedede" stroke-width="0.6"/>
<line x1="991.70" y1="315.95" x2="1083.00" y2="315.95" stroke="#dedede" stroke-width="0.6"/>
<line x1="991.70" y1="331.22" x2="1083.00" y2="331.22" stroke="#dedede" stroke-width="0.6"/>
<line x1="991.70" y1="346.49" x2="1083.00" y2="346.49" stroke="#dedede" stroke-width="0.6"/>
<line x1="991.70" y1="361.76" x2="1083.00" y2="361.76" stroke="#dedede" stroke-width="0.6"/>
<line x1="991.70" y1="377.03" x2="1083.00" y2="377.03" stroke="#dedede" stroke-width="0.6"/>
<line x1="991.70" y1="392.30" x2="1083.00" y2="392.30" stroke="#dedede" stroke-width="0.6"/>
<line x1="991.70" y1="407.57" x2="1083.00" y2="407.57" stroke="#dedede" stroke-width="0.6"/>
<line x1="991.70" y1="422.84" x2="1083.00" y2="422.84" stroke="#dedede" stroke-width="0.6"/>
<line x1="934.00" y1="438.11" x2="1083.00" y2="438.11" stroke="#d6d6d6" stroke-width="0.7"/>
<line x1="991.70" y1="453.38" x2="1083.00" y2="453.38" stroke="#dedede" stroke-width="0.6"/>
<line x1="991.70" y1="468.65" x2="1083.00" y2="468.65" stroke="#dedede" stroke-width="0.6"/>
<line x1="991.70" y1="483.92" x2="1083.00" y2="483.92" stroke="#dedede" stroke-width="0.6"/>
<line x1="991.70" y1="499.19" x2="1083.00" y2="499.19" stroke="#dedede" stroke-width="0.6"/>
<line x1="934.00" y1="504.10" x2="1083.00" y2="504.10" stroke="#cfcfcf" stroke-width="0.7"/>
<text x="935.80" y="234.20" font-size="6.06" fill="#222" font-weight="bold">Администрация</text>
<text x="935.80" y="448.20" font-size="6.25" fill="#222" font-weight="bold">Склад</text>
</g>
<line x1="625.00" y1="108.50" x2="625.00" y2="507.00" stroke="#d0d0d0" stroke-width="0.8"/>
<line x1="625.00" y1="108.50" x2="1083.00" y2="108.50" stroke="#ececec" stroke-width="0.8"/>
</g>
<rect x="1083.00" y="0.00" width="2.00" height="540.00" fill="#ffffff"/>
</svg>
</body>
</html>
